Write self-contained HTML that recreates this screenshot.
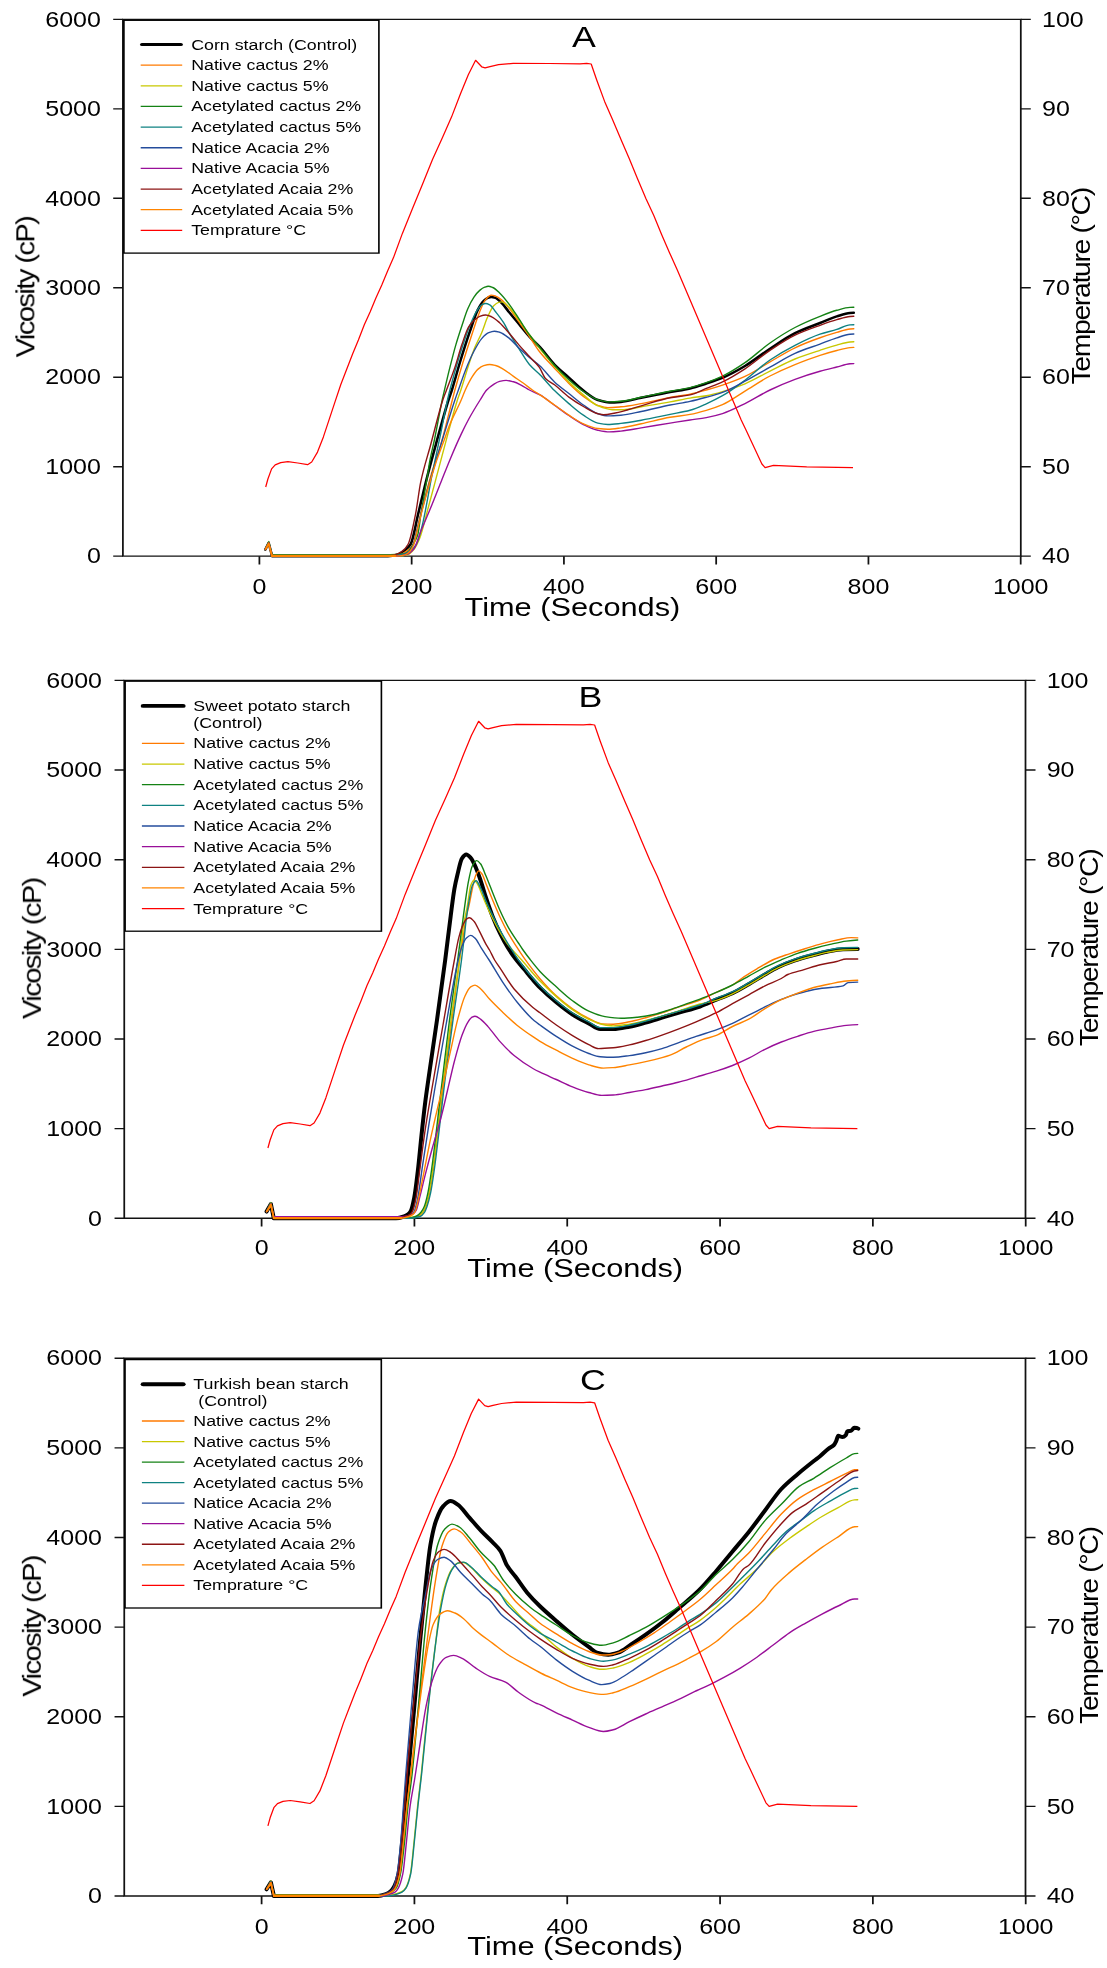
<!DOCTYPE html>
<html lang="en"><head><meta charset="utf-8"><title>Pasting profiles</title>
<style>
html,body{margin:0;padding:0;background:#fff}
body{width:1107px;height:1968px;overflow:hidden}
svg{display:block}
text{font-family:"Liberation Sans",Arial,Helvetica,sans-serif;fill:#000}
</style></head><body>
<svg width="1107" height="1968" viewBox="0 0 1107 1968">
<rect width="1107" height="1968" fill="#fff"/>
<g>
<g transform="scale(1.25 1)"><path d="M98.32 19.4H816.64V556.15H98.32Z" fill="none" stroke="#121212" stroke-width="1.4"/><path d="M90.56 556.15H98.32M816.64 556.15H824.64M90.56 466.69H98.32M816.64 466.69H824.64M90.56 377.23H98.32M816.64 377.23H824.64M90.56 287.77H98.32M816.64 287.77H824.64M90.56 198.32H98.32M816.64 198.32H824.64M90.56 108.86H98.32M816.64 108.86H824.64M90.56 19.4H98.32M816.64 19.4H824.64M207.52 556.15V564.45M329.33 556.15V564.45M451.14 556.15V564.45M572.94 556.15V564.45M694.75 556.15V564.45M816.56 556.15V564.45" fill="none" stroke="#121212" stroke-width="1.4"/></g><g><path d="M265.3 549.55L268.7 542.95L272.1 556.15L388 556.15C391.33 556.15 394.67 555.43 398 554.57C400.33 553.96 402.67 552.18 405 550.35C406.87 548.89 408.73 547.35 410.6 544.24C413.13 540.01 415.67 524.14 418.2 513.8C420.73 503.46 423.27 492.22 425.8 482.2C429.17 468.89 432.53 456.54 435.9 444.3C440.1 429.03 444.3 413.23 448.5 400C449.63 396.43 450.77 393.56 451.9 390C454.57 381.63 457.23 371.23 459.9 362.5C463.2 351.7 466.5 341.29 469.8 331.7C472.47 323.95 475.13 314.91 477.8 309.8C479.77 306.03 481.73 302.83 483.7 300.9C485.03 299.59 486.37 298.45 487.7 297.9C488.87 297.42 490.03 296.9 491.2 296.9C492.67 296.9 494.13 297.39 495.6 297.9C497.6 298.59 499.6 300.93 501.6 302.9C504.27 305.53 506.93 309.55 509.6 312.8C512.9 316.83 516.2 320.73 519.5 324.7C522.8 328.67 526.1 332.99 529.4 336.6C532.93 340.46 536.47 343.36 540 347.2C544.83 352.45 549.67 359.62 554.5 364.6C559.3 369.55 564.1 373.28 568.9 377.6C573.73 381.95 578.57 386.95 583.4 390.6C588.2 394.23 593 398.52 597.8 400C601.67 401.19 605.53 402.4 609.4 402.4C613.23 402.4 617.07 402.16 620.9 401.9C627.67 401.44 634.43 399.16 641.2 397.8C650.83 395.86 660.47 393.83 670.1 392C676.73 390.74 683.37 389.91 690 388.4C695.43 387.16 700.87 385.26 706.3 383.5C711.7 381.75 717.1 380.05 722.5 377.8C730 374.67 737.5 370.46 745 366C753.33 361.04 761.67 354.17 770 348.7C778.33 343.23 786.67 337.19 795 333.1C803.33 329.01 811.67 326.32 820 323C825.6 320.77 831.2 318.16 836.8 316.4C841.2 315.02 845.6 313.24 850 312.9C851.27 312.8 852.53 312.71 853.8 312.7" fill="none" stroke="#000000" stroke-width="2.55" stroke-linejoin="round" stroke-linecap="round"/><path d="M265.3 549.55L268.7 542.95L272.1 556.15L390 556.15C393.33 556.15 396.67 555.41 400 554.57C402.33 553.98 404.67 552.55 407 550.88C409.03 549.42 411.07 547.65 413.1 544.24C415.63 539.99 418.17 523.63 420.7 513.8C424.07 500.74 427.43 487.39 430.8 475.9C434.17 464.41 437.53 455.95 440.9 444.3C444.7 431.16 448.5 414.67 452.3 400C453.17 396.65 454.03 393.18 454.9 390C457.57 380.23 460.23 371.23 462.9 362.5C466.2 351.7 469.5 341.56 472.8 331.7C475.1 324.83 477.4 317.47 479.7 311.8C481.37 307.69 483.03 303.34 484.7 300.9C486.03 298.94 487.37 297.32 488.7 296.4C489.53 295.82 490.37 295.1 491.2 295.1C492.67 295.1 494.13 295.62 495.6 296.1C497.6 296.75 499.6 298.31 501.6 299.9C504.27 302.02 506.93 305.5 509.6 308.8C512.9 312.88 516.2 318.07 519.5 322.7C522.8 327.33 526.1 331.84 529.4 336.6C532.93 341.69 536.47 347.81 540 352.3C544.83 358.44 549.67 363 554.5 368.2C559.3 373.36 564.1 378.75 568.9 383.4C573.73 388.09 578.57 392.86 583.4 396.4C588.2 399.91 593 403.74 597.8 405.3C601.17 406.39 604.53 407.6 607.9 407.6C612.23 407.6 616.57 407.17 620.9 406.8C627.67 406.22 634.43 404.81 641.2 403.6C650.83 401.88 660.47 399.31 670.1 397.5C676.73 396.26 683.37 395.46 690 394.1C695.43 392.99 700.87 391.49 706.3 390C711.7 388.52 717.1 386.92 722.5 385.1C730 382.57 737.5 379.87 745 376.4C753.33 372.55 761.67 366.67 770 361.9C778.33 357.13 786.67 351.71 795 347.8C803.33 343.89 811.67 340.69 820 337.75C825.6 335.77 831.2 333.99 836.8 332.4C841.2 331.15 845.6 329.34 850 329C851.27 328.9 852.53 328.81 853.8 328.8" fill="none" stroke="#FF7A00" stroke-width="1.4" stroke-linejoin="round" stroke-linecap="round"/><path d="M265.3 549.55L268.7 541.45L272.1 556.15L398 556.15C401.33 556.15 404.67 555.52 408 554.57C410 554 412 551.71 414 549.3C415.8 547.13 417.6 543.43 419.4 539.1C422.37 531.96 425.33 518.32 428.3 507.5C431.67 495.22 435.03 482.25 438.4 469.6C441.77 456.95 445.13 443.89 448.5 431.6C451.47 420.77 454.43 409.25 457.4 400C458.57 396.36 459.73 393.51 460.9 390C463.53 382.08 466.17 372.4 468.8 364.5C470.8 358.5 472.8 352.5 474.8 347.6C477.1 341.96 479.4 338.19 481.7 332.7C483.7 327.93 485.7 321.13 487.7 316.8C489.7 312.47 491.7 307.78 493.7 305.8C495.33 304.18 496.97 302.82 498.6 302.4C499.6 302.14 500.6 301.9 501.6 301.9C502.93 301.9 504.27 302.94 505.6 303.8C506.93 304.66 508.27 306.32 509.6 307.8C512.9 311.47 516.2 316.22 519.5 320.7C522.8 325.18 526.1 330.19 529.4 334.7C532.93 339.53 536.47 344.26 540 348.7C544.83 354.78 549.67 360.46 554.5 366C559.3 371.5 564.1 377.15 568.9 381.9C573.73 386.68 578.57 390.93 583.4 394.9C588.2 398.84 593 403.89 597.8 405.8C602.63 407.72 607.47 409.7 612.3 409.7C616.13 409.7 619.97 409.7 623.8 409.7C629.6 409.7 635.4 407.77 641.2 406.8C650.83 405.18 660.47 403.64 670.1 401.9C676.73 400.7 683.37 399.2 690 398.1C695.43 397.2 700.87 396.71 706.3 395.7C711.7 394.69 717.1 393.17 722.5 391.6C730 389.42 737.5 386.88 745 383.8C753.33 380.38 761.67 375.23 770 371.1C778.33 366.97 786.67 362.37 795 359C803.33 355.63 811.67 353.02 820 350.3C825.6 348.47 831.2 346.59 836.8 345.1C841.2 343.93 845.6 342.34 850 342C851.27 341.9 852.53 341.82 853.8 341.8" fill="none" stroke="#C8C800" stroke-width="1.4" stroke-linejoin="round" stroke-linecap="round"/><path d="M265.3 549.55L268.7 542.15L272.1 554.75L386 554.75C389.33 554.75 392.67 554.61 396 554.47C398.77 554.35 401.53 554.19 404.3 553.72C405.73 553.48 407.17 552.4 408.6 551.19C410.03 549.97 411.47 547.19 412.9 544.72C414.5 541.96 416.1 540.12 417.7 535C418.73 531.69 419.77 521.42 420.8 515C421.63 509.83 422.47 504.88 423.3 500C424.47 493.16 425.63 486.97 426.8 480C427.87 473.63 428.93 465.66 430 460C431.47 452.22 432.93 447.03 434.4 440C437 427.54 439.6 412.06 442.2 400C442.97 396.45 443.73 393.28 444.5 390C446.3 382.3 448.1 374.58 449.9 367.4C451.9 359.43 453.9 351.49 455.9 344.6C457.9 337.71 459.9 331.7 461.9 325.7C463.87 319.8 465.83 313.3 467.8 308.8C469.8 304.23 471.8 300.32 473.8 297.4C475.77 294.53 477.73 292.02 479.7 290.4C481.37 289.03 483.03 287.8 484.7 287.2C485.87 286.78 487.03 286.3 488.2 286.3C489.7 286.3 491.2 286.92 492.7 287.5C495 288.38 497.3 290.76 499.6 292.9C502.93 296.01 506.27 300.37 509.6 304.8C512.9 309.19 516.2 314.72 519.5 319.7C522.8 324.68 526.1 330.18 529.4 334.7C532.93 339.54 536.47 343.55 540 347.9C544.83 353.85 549.67 360.24 554.5 365.5C559.3 370.72 564.1 375.42 568.9 379.7C573.73 384.01 578.57 388.26 583.4 391.5C588.2 394.72 593 398.36 597.8 399.7C601.67 400.78 605.53 401.9 609.4 401.9C613.23 401.9 617.07 401.6 620.9 401.3C627.67 400.77 634.43 398.67 641.2 397.3C650.83 395.36 660.47 393.18 670.1 391.3C676.73 390 683.37 389.14 690 387.6C695.43 386.34 700.87 384.57 706.3 382.7C711.7 380.84 717.1 378.77 722.5 376.2C730 372.63 737.5 367.8 745 362.7C753.33 357.04 761.67 348.78 770 343C778.33 337.22 786.67 331.82 795 327.5C803.33 323.18 811.67 319.65 820 316.35C825.6 314.13 831.2 311.81 836.8 310.3C841.2 309.11 845.6 307.58 850 307.4C851.27 307.35 852.53 307.3 853.8 307.3" fill="none" stroke="#148214" stroke-width="1.4" stroke-linejoin="round" stroke-linecap="round"/><path d="M265.3 549.55L268.7 541.95L272.1 555.35L394 555.35C397.33 555.35 400.67 554.65 404 553.87C406.33 553.32 408.67 552.04 411 550.41C412.83 549.13 414.67 547.26 416.5 544.19C418.33 541.12 420.17 533.6 422 526.5C425.33 513.59 428.67 491.51 432 475C435 460.14 438 446.56 441 432C443.17 421.48 445.33 409.66 447.5 400C448.3 396.43 449.1 393.12 449.9 390C453.23 377.01 456.57 365.16 459.9 354.5C463.2 343.95 466.5 333.74 469.8 325.7C472.13 320.01 474.47 314.37 476.8 310.8C478.43 308.3 480.07 305.62 481.7 304.8C483.03 304.13 484.37 303.5 485.7 303.5C487.03 303.5 488.37 304.14 489.7 304.8C491.67 305.77 493.63 309.31 495.6 311.8C498.27 315.17 500.93 318.5 503.6 322.7C505.6 325.85 507.6 330.26 509.6 333.7C512.9 339.38 516.2 344.47 519.5 349.6C522.8 354.73 526.1 360.62 529.4 364.5C532.93 368.66 536.47 371.09 540 374.7C544.83 379.64 549.67 385.81 554.5 390.6C559.3 395.35 564.1 399.53 568.9 403.6C573.73 407.7 578.57 412.05 583.4 415.2C588.2 418.32 593 422.07 597.8 423.1C601.17 423.82 604.53 424.5 607.9 424.5C612.23 424.5 616.57 423.87 620.9 423.4C627.67 422.67 634.43 421.39 641.2 420.2C650.83 418.51 660.47 416.36 670.1 414.4C676.73 413.05 683.37 412.12 690 410.3C695.43 408.81 700.87 406.21 706.3 403.8C711.7 401.4 717.1 398.8 722.5 395.7C730 391.39 737.5 385.77 745 380.2C753.33 374.01 761.67 365.67 770 360C778.33 354.33 786.67 349.53 795 345.3C803.33 341.07 811.67 336.99 820 334.15C825.6 332.24 831.2 331.14 836.8 329.4C841.2 328.03 845.6 325.25 850 324.9C851.27 324.8 852.53 324.7 853.8 324.7" fill="none" stroke="#0F8282" stroke-width="1.4" stroke-linejoin="round" stroke-linecap="round"/><path d="M265.3 549.55L268.7 542.95L272.1 556.15L394 556.15C397.33 556.15 400.67 555.75 404 555.1C405.83 554.73 407.67 553.08 409.5 551.2C410.83 549.82 412.17 547.59 413.5 544.24C414.27 542.31 415.03 538.1 415.8 535C417.53 527.99 419.27 520.64 421 513.8C422.2 509.07 423.4 504.45 424.6 500C426.47 493.08 428.33 486.44 430.2 480C432.2 473.1 434.2 466.61 436.2 460C438.23 453.28 440.27 446.57 442.3 440C446.5 426.43 450.7 412.51 454.9 400C456.07 396.53 457.23 393.3 458.4 390C460.87 383.03 463.33 375.53 465.8 369.4C468.47 362.77 471.13 356.53 473.8 351.5C476.43 346.53 479.07 341.51 481.7 338.6C484.03 336.02 486.37 333.64 488.7 332.7C490.53 331.96 492.37 331.2 494.2 331.2C496 331.2 497.8 331.71 499.6 332.2C502.93 333.11 506.27 335.99 509.6 338.6C512.9 341.19 516.2 345.46 519.5 348.6C522.8 351.74 526.1 354.7 529.4 357.5C532.93 360.5 536.47 362.75 540 366C544.83 370.44 549.67 377.41 554.5 381.9C559.3 386.36 564.1 389.66 568.9 393.5C573.73 397.36 578.57 401.69 583.4 405C588.2 408.29 593 412.2 597.8 413.7C601.17 414.75 604.53 415.9 607.9 415.9C612.23 415.9 616.57 415.55 620.9 415.2C627.67 414.66 634.43 412.85 641.2 411.5C650.83 409.57 660.47 406.92 670.1 405C676.73 403.68 683.37 402.8 690 401.4C695.43 400.25 700.87 398.79 706.3 397.3C711.7 395.82 717.1 394.41 722.5 392.4C730 389.61 737.5 385.15 745 381.2C753.33 376.81 761.67 371.83 770 367.2C778.33 362.57 786.67 357.12 795 353.4C803.33 349.68 811.67 347.16 820 344.05C825.6 341.96 831.2 339.55 836.8 337.8C841.2 336.42 845.6 334.55 850 334.2C851.27 334.1 852.53 334 853.8 334" fill="none" stroke="#244C9C" stroke-width="1.4" stroke-linejoin="round" stroke-linecap="round"/><path d="M265.3 549.55L268.7 542.95L272.1 556.15L397 556.15C400.33 556.15 403.67 555.37 407 554.36C409.33 553.65 411.67 551.63 414 548.77C416.23 546.04 418.47 537.04 420.7 531.5C424.07 523.15 427.43 515.71 430.8 507.5C434.17 499.29 437.53 490.59 440.9 482.2C444.3 473.73 447.7 464.94 451.1 456.9C454.47 448.94 457.83 441.19 461.2 434.1C463.73 428.76 466.27 423.64 468.8 419C472.57 412.1 476.33 405.98 480.1 400C482.3 396.51 484.5 392.34 486.7 390C489.03 387.52 491.37 385.72 493.7 384.3C495.67 383.1 497.63 381.86 499.6 381.4C501.77 380.89 503.93 380.4 506.1 380.4C508.57 380.4 511.03 381.15 513.5 381.8C516.17 382.5 518.83 383.95 521.5 385.3C524.13 386.63 526.77 388.62 529.4 390C532.93 391.85 536.47 392.94 540 394.9C544.83 397.58 549.67 401.75 554.5 405.2C559.3 408.62 564.1 412.31 568.9 415.5C573.73 418.71 578.57 422.14 583.4 424.5C588.2 426.84 593 429.33 597.8 430.3C601.67 431.08 605.53 431.9 609.4 431.9C613.23 431.9 617.07 431.46 620.9 431.1C627.67 430.47 634.43 428.99 641.2 427.9C650.83 426.34 660.47 424.65 670.1 423.1C676.73 422.04 683.37 421 690 420C695.43 419.18 700.87 418.6 706.3 417.6C711.7 416.6 717.1 415.29 722.5 413.6C730 411.26 737.5 407.26 745 403.6C753.33 399.53 761.67 393.99 770 390C778.33 386.01 786.67 382.36 795 379.3C803.33 376.24 811.67 373.59 820 371.25C825.6 369.68 831.2 368.39 836.8 367C841.2 365.91 845.6 364.14 850 363.8C851.27 363.7 852.53 363.61 853.8 363.6" fill="none" stroke="#990F99" stroke-width="1.4" stroke-linejoin="round" stroke-linecap="round"/><path d="M265.3 549.55L268.7 542.95L272.1 556.15L385 556.15C388.33 556.15 391.67 555.58 395 554.88C397.33 554.4 399.67 553.05 402 551.41C404.03 549.97 406.07 547.87 408.1 544.24C410.6 539.77 413.1 526.23 415.6 513.8C417.3 505.35 419 490.37 420.7 482.2C424.07 466.03 427.43 456.95 430.8 444.3C434.17 431.65 437.53 418 440.9 406.3C441.53 404.1 442.17 401.91 442.8 400C444.03 396.29 445.27 393.33 446.5 390C449.3 382.45 452.1 375.67 454.9 367.4C457.23 360.5 459.57 351.34 461.9 344.6C464.2 337.96 466.5 330.37 468.8 326.7C470.8 323.51 472.8 321.43 474.8 319.7C476.43 318.29 478.07 316.85 479.7 316.3C481.7 315.63 483.7 315 485.7 315C487.7 315 489.7 315.96 491.7 316.8C494.33 317.91 496.97 320.37 499.6 322.7C502.93 325.64 506.27 329.87 509.6 333.7C512.9 337.49 516.2 341.81 519.5 345.6C522.8 349.39 526.1 352.88 529.4 356.5C532.73 360.15 536.07 362.74 539.4 367.4C541.43 370.24 543.47 376.5 545.5 378.6C548.5 381.7 551.5 382.53 554.5 384.8C559.3 388.43 564.1 393.56 568.9 397.1C573.73 400.66 578.57 403.77 583.4 406.5C588.2 409.21 593 412.55 597.8 413.7C599.73 414.16 601.67 414.7 603.6 414.7C607.47 414.7 611.33 413.71 615.2 413C623.87 411.4 632.53 408.2 641.2 405.8C650.83 403.13 660.47 399.6 670.1 397.8C676.73 396.56 683.37 396.34 690 394.9C695.43 393.72 700.87 390.57 706.3 388.4C711.7 386.24 717.1 384.44 722.5 381.9C730 378.37 737.5 373.68 745 368.8C753.33 363.38 761.67 355.86 770 350.3C778.33 344.74 786.67 339.07 795 335.1C803.33 331.13 811.67 328.29 820 325.3C825.6 323.29 831.2 321.26 836.8 319.7C841.2 318.47 845.6 316.84 850 316.5C851.27 316.4 852.53 316.31 853.8 316.3" fill="none" stroke="#8C1414" stroke-width="1.4" stroke-linejoin="round" stroke-linecap="round"/><path d="M265.3 549.55L268.7 542.95L272.1 556.15L395 556.15C398.33 556.15 401.67 555.67 405 554.88C406.67 554.49 408.33 552.97 410 551.2C411.3 549.81 412.6 547.56 413.9 544.24C414.67 542.28 415.43 538.13 416.2 535C417.9 528.07 419.6 520.56 421.3 513.8C422.5 509.02 423.7 504.41 424.9 500C426.8 493.02 428.7 486.39 430.6 480C432.67 473.05 434.73 466.09 436.8 460C439.27 452.73 441.73 446.76 444.2 440C445.97 435.16 447.73 429.66 449.5 425.3C453.4 415.67 457.3 409.03 461.2 400C462.57 396.84 463.93 392.98 465.3 390C467.47 385.28 469.63 380.81 471.8 377.4C473.8 374.25 475.8 371.1 477.8 369.4C479.77 367.72 481.73 366.3 483.7 365.7C485.7 365.09 487.7 364.5 489.7 364.5C491.67 364.5 493.63 365.02 495.6 365.5C498.27 366.15 500.93 367.87 503.6 369.4C506.9 371.29 510.2 374.1 513.5 376.4C516.83 378.73 520.17 380.9 523.5 383.3C526.47 385.44 529.43 387.94 532.4 390C534.93 391.76 537.47 393.21 540 394.9C544.83 398.12 549.67 401.61 554.5 405C559.3 408.37 564.1 412.1 568.9 415.2C573.73 418.32 578.57 421.77 583.4 423.8C588.2 425.82 593 427.91 597.8 428.5C601.17 428.91 604.53 429.3 607.9 429.3C612.23 429.3 616.57 428.5 620.9 427.9C627.67 426.97 634.43 425.24 641.2 423.8C650.83 421.76 660.47 418.98 670.1 417.3C676.73 416.14 683.37 415.64 690 414.4C695.43 413.39 700.87 411.89 706.3 410.3C711.7 408.72 717.1 406.96 722.5 404.6C730 401.32 737.5 395.61 745 391.1C753.33 386.08 761.67 380.33 770 376C778.33 371.67 786.67 368 795 364.6C803.33 361.2 811.67 358.03 820 355.35C825.6 353.55 831.2 351.89 836.8 350.5C841.2 349.41 845.6 347.94 850 347.6C851.27 347.5 852.53 347.42 853.8 347.4" fill="none" stroke="#FF8400" stroke-width="1.4" stroke-linejoin="round" stroke-linecap="round"/><path d="M265.8 549.15L268.7 544.15L272.1 555.9" fill="none" stroke="#FF8400" stroke-width="1.7" stroke-linejoin="round"/><path d="M272.1 555.9L395 555.9" fill="none" stroke="#FF8400" stroke-width="2.3" stroke-linejoin="round" stroke-linecap="round"/><path d="M265.7 487L267.9 479L271.6 468.9L275.2 464.8L280.7 462.6L287.9 461.7L297.8 463L307.6 464.7L311.7 462L317.5 452.1L323.4 436.9L329.2 419.4L335 401.9L340.9 384.3L346.7 369.2L352.6 354L358.4 340L364.3 324.8L370.1 311.9L375.9 297.9L381.8 285L387.6 271L393.5 257.6L402.4 233.4L412.4 208.8L422.5 184.2L432.5 159.6L442.6 137.3L451.5 117.1L460.5 93.7L468.3 74.7L475.6 60.3L481.7 66.8L485.1 67.9L490 66.6L498.5 64.7L513.2 63.3L549.4 63.5L580 63.8L586.7 63.4L591.2 64L596.8 80.2L604.6 101.4L612.4 119.3L621.4 140.6L629.2 158.4L637 177.4L646 198.7L653.8 215.5L661.6 234.5L669.4 252.4L677.3 270L690 299.8L741.2 420L746 430L761.9 464L765.1 467.6L773.5 465.4L806.7 466.9L853 467.6" fill="none" stroke="#FF0000" stroke-width="1.25" stroke-linejoin="round"/></g><g transform="scale(1.25 1)"><rect x="99.12" y="20.3" width="204" height="232.8" fill="#fff" stroke="#000" stroke-width="1.3"/><path d="M113.52 44.5H144.8" stroke="#000" stroke-width="3" stroke-linecap="round" fill="none"/><path d="M112.56 65.15H145.76" stroke="#FF7A00" stroke-width="1.3" fill="none"/><path d="M112.56 85.8H145.76" stroke="#C8C800" stroke-width="1.3" fill="none"/><path d="M112.56 106.45H145.76" stroke="#148214" stroke-width="1.3" fill="none"/><path d="M112.56 127.1H145.76" stroke="#0F8282" stroke-width="1.3" fill="none"/><path d="M112.56 147.75H145.76" stroke="#244C9C" stroke-width="1.3" fill="none"/><path d="M112.56 168.4H145.76" stroke="#990F99" stroke-width="1.3" fill="none"/><path d="M112.56 189.05H145.76" stroke="#8C1414" stroke-width="1.3" fill="none"/><path d="M112.56 209.7H145.76" stroke="#FF8400" stroke-width="1.3" fill="none"/><path d="M112.56 230.35H145.76" stroke="#FF0000" stroke-width="1.3" fill="none"/></g>
<g transform="scale(1.25 1)"><path d="M99.4 680.4H820.4V1218.3H99.4Z" fill="none" stroke="#121212" stroke-width="1.4"/><path d="M91.64 1218.3H99.4M820.4 1218.3H828.4M91.64 1128.65H99.4M820.4 1128.65H828.4M91.64 1039H99.4M820.4 1039H828.4M91.64 949.35H99.4M820.4 949.35H828.4M91.64 859.7H99.4M820.4 859.7H828.4M91.64 770.05H99.4M820.4 770.05H828.4M91.64 680.4H99.4M820.4 680.4H828.4M209.28 1218.3V1226.6M331.54 1218.3V1226.6M453.79 1218.3V1226.6M576.05 1218.3V1226.6M698.3 1218.3V1226.6M820.56 1218.3V1226.6" fill="none" stroke="#121212" stroke-width="1.4"/></g><g><path d="M266.6 1211.6L270.9 1204.1L273.8 1218.3L396 1218.3C398.67 1218.24 401.33 1217.39 404 1216.51C405.33 1216.08 406.67 1215.4 408 1214.41C408.9 1213.75 409.8 1212.84 410.7 1211.26C411.9 1209.17 413.1 1203.51 414.3 1197.4C415.5 1191.29 416.7 1180.49 417.9 1170.3C419.13 1159.82 420.37 1145.59 421.6 1134.2C422.8 1123.11 424 1112.14 425.2 1102.6C426.23 1094.39 427.27 1087.36 428.3 1080C431.2 1059.35 434.1 1040.6 437 1020C439.73 1000.59 442.47 980.98 445.2 960C447.03 945.93 448.87 929.89 450.7 915.9C451.93 906.49 453.17 895.74 454.4 888.8C455.33 883.55 456.27 879.64 457.2 875.8C458.8 869.21 460.4 860.69 462 858.4C463.4 856.4 464.8 854.6 466.2 854.6C467.7 854.6 469.2 856.33 470.7 857.9C472.5 859.78 474.3 864.15 476.1 868.2C477.57 871.5 479.03 875.8 480.5 880.1C482.3 885.38 484.1 892.06 485.9 897.5C488.07 904.04 490.23 910.42 492.4 915.9C494.93 922.31 497.47 928.02 500 933.2C502.53 938.38 505.07 943.18 507.6 947.3C510.3 951.69 513 955.45 515.7 959C518.47 962.64 521.23 965.65 524 969C526.97 972.59 529.93 976.39 532.9 979.8C535.27 982.52 537.63 985.23 540 987.6C545.43 993.05 550.87 997.84 556.3 1002.3C561.7 1006.73 567.1 1011.08 572.5 1014.5C577.93 1017.94 583.37 1020.57 588.8 1023.4C592.6 1025.38 596.4 1029.1 600.2 1029.1C604.53 1029.1 608.87 1029.1 613.2 1029.1C618.6 1029.1 624 1027.71 629.4 1026.7C634.83 1025.69 640.27 1024.09 645.7 1022.6C651.13 1021.11 656.57 1019.34 662 1017.7C667.4 1016.07 672.8 1014.4 678.2 1012.8C685.47 1010.65 692.73 1009 700 1006.5C705.43 1004.63 710.87 1001.92 716.3 999.7C721.7 997.49 727.1 995.71 732.5 993.2C737.93 990.68 743.37 987.32 748.8 984.2C754.2 981.1 759.6 977.63 765 974.5C769.33 971.99 773.67 969.23 778 967.2C783.43 964.65 788.87 962.56 794.3 960.7C799.73 958.84 805.17 957.29 810.6 955.8C816 954.32 821.4 952.71 826.8 951.7C832.23 950.69 837.67 949.55 843.1 949.3C847.97 949.08 852.83 948.9 857.7 948.9" fill="none" stroke="#000000" stroke-width="4" stroke-linejoin="round" stroke-linecap="round"/><path d="M266.6 1211.6L270.9 1204.1L273.8 1218.3L409 1218.3C412 1218.3 415 1217.54 418 1216.51C419.67 1215.95 421.33 1214.33 423 1212.32C424 1211.11 425 1209.07 426 1206.54C427.2 1203.51 428.4 1198.57 429.6 1192.9C430.8 1187.23 432 1178.71 433.2 1170.3C434.7 1159.78 436.2 1146.8 437.7 1134.2C438.9 1124.12 440.1 1112.87 441.3 1102.6C442.2 1094.9 443.1 1087.19 444 1080C446.67 1058.71 449.33 1040.36 452 1020C455 997.1 458 969.58 461 950C461.7 945.43 462.4 942 463.1 937.6C464.07 931.53 465.03 923.02 466 918C467.03 912.64 468.07 909.71 469.1 905C470.23 899.84 471.37 893.03 472.5 888C473.5 883.57 474.5 878.25 475.5 876C476.6 873.53 477.7 870.9 478.8 870.9C479.87 870.9 480.93 872.55 482 874C483.3 875.77 484.6 880.22 485.9 883.4C488.07 888.7 490.23 894.42 492.4 899.6C494.93 905.65 497.47 911.61 500 917C502.53 922.39 505.07 927.54 507.6 932.1C510.47 937.26 513.33 941.72 516.2 946.2C519.1 950.73 522 955.16 524.9 959.2C529.93 966.22 534.97 972.87 540 978.7C545.43 985 550.87 990.86 556.3 995.8C561.7 1000.71 567.1 1005.11 572.5 1008.8C577.93 1012.51 583.37 1015.86 588.8 1018.5C593.13 1020.61 597.47 1023.69 601.8 1023.9C605.6 1024.08 609.4 1024.2 613.2 1024.2C618.6 1024.2 624 1022.81 629.4 1021.8C634.83 1020.79 640.27 1019.19 645.7 1017.7C651.13 1016.21 656.57 1014.55 662 1012.8C667.4 1011.06 672.8 1009.03 678.2 1007.2C685.47 1004.74 692.73 1002.83 700 1000C705.43 997.88 710.87 994.91 716.3 992.4C721.7 989.91 727.1 988.04 732.5 985C736.3 982.86 740.1 979.43 743.9 976.9C748.23 974.02 752.57 971.33 756.9 968.8C762.87 965.31 768.83 961.56 774.8 959C779.67 956.91 784.53 955.46 789.4 953.8C794.83 951.95 800.27 950.2 805.7 948.5C811.13 946.8 816.57 945.03 822 943.6C827.4 942.18 832.8 940.86 838.2 939.8C842.53 938.95 846.87 937.6 851.2 937.6C853.37 937.6 855.53 937.64 857.7 937.9" fill="none" stroke="#FF7A00" stroke-width="1.4" stroke-linejoin="round" stroke-linecap="round"/><path d="M266.6 1211.6L270.9 1202.6L273.8 1217.5L409 1217.5C411.67 1217.5 414.33 1216.69 417 1215.83C418.83 1215.24 420.67 1214.22 422.5 1212.39C423.5 1211.39 424.5 1209.08 425.5 1206.49C426.67 1203.47 427.83 1198.43 429 1192.9C430.23 1187.06 431.47 1178.82 432.7 1170.3C434.2 1159.94 435.7 1146.8 437.2 1134.2C438.4 1124.12 439.6 1112.87 440.8 1102.6C441.7 1094.9 442.6 1087.39 443.5 1080C446 1059.47 448.5 1038.77 451 1020C453.83 998.72 456.67 982.46 459.5 960C460.77 949.96 462.03 934.97 463.3 926.7C464.7 917.56 466.1 912.86 467.5 905C468.57 899.01 469.63 888.26 470.7 885.5C471.8 882.65 472.9 880.1 474 880.1C475.17 880.1 476.33 882.23 477.5 884C478.5 885.51 479.5 888.54 480.5 890.9C482.3 895.14 484.1 899.89 485.9 904C488.07 908.95 490.23 913.67 492.4 918C494.93 923.06 497.47 927.78 500 932.1C502.53 936.42 505.07 940.71 507.6 944.1C512.3 950.39 517 954.64 521.7 960C527.8 966.95 533.9 974.75 540 981.1C545.43 986.75 550.87 991.87 556.3 996.6C561.7 1001.3 567.1 1005.91 572.5 1009.6C577.93 1013.31 583.37 1016.81 588.8 1019.3C593.13 1021.28 597.47 1023.28 601.8 1024.2C605.6 1025 609.4 1025.9 613.2 1025.9C618.6 1025.9 624 1024.97 629.4 1024.2C634.83 1023.42 640.27 1021.84 645.7 1020.5C651.13 1019.16 656.57 1017.65 662 1016.1C667.4 1014.56 672.8 1012.9 678.2 1011.2C685.47 1008.91 692.73 1005.91 700 1004C705.43 1002.58 710.87 1001.95 716.3 1000.4C721.7 998.86 727.1 996.41 732.5 993.9C737.93 991.38 743.37 988.02 748.8 984.9C754.2 981.8 759.6 978.33 765 975.2C769.33 972.69 773.67 969.93 778 967.9C783.43 965.35 788.87 963.26 794.3 961.4C799.73 959.54 805.17 957.99 810.6 956.5C816 955.02 821.4 953.41 826.8 952.4C832.23 951.39 837.67 950.25 843.1 950C847.97 949.78 852.83 949.6 857.7 949.6" fill="none" stroke="#C8C800" stroke-width="1.4" stroke-linejoin="round" stroke-linecap="round"/><path d="M266.6 1211.6L270.9 1203.3L273.8 1218.3L408 1218.3C410.67 1218.3 413.33 1217.5 416 1216.51C417.67 1215.9 419.33 1214.25 421 1212.32C422.1 1211.04 423.2 1209.16 424.3 1206.54C425.5 1203.68 426.7 1198.57 427.9 1192.9C429.1 1187.23 430.3 1178.71 431.5 1170.3C433 1159.78 434.5 1146.8 436 1134.2C437.2 1124.12 438.4 1112.87 439.6 1102.6C440.5 1094.9 441.4 1087.52 442.3 1080C444.7 1059.95 447.1 1038.73 449.5 1020C452.23 998.67 454.97 980.63 457.7 960C459.13 949.18 460.57 937.65 462 926.7C463.1 918.3 464.2 909.44 465.3 901.8C466.37 894.39 467.43 886.5 468.5 881.2C469.77 874.91 471.03 868.41 472.3 866C473.77 863.21 475.23 860.6 476.7 860.6C477.97 860.6 479.23 862.29 480.5 863.8C482.3 865.94 484.1 871.58 485.9 875.8C488.07 880.88 490.23 886.66 492.4 892C494.93 898.24 497.47 904.91 500 910.5C502.87 916.83 505.73 922.76 508.6 927.8C511.87 933.54 515.13 938.01 518.4 943C519.83 945.19 521.27 947.45 522.7 949.5C525.13 952.98 527.57 956.19 530 959.3C533.33 963.55 536.67 967.83 540 971.4C545.43 977.22 550.87 981.91 556.3 986.8C561.7 991.66 567.1 996.73 572.5 1000.7C577.93 1004.7 583.37 1008.81 588.8 1011.2C594.2 1013.57 599.6 1015.78 605 1016.6C610.43 1017.42 615.87 1018.2 621.3 1018.2C626.73 1018.2 632.17 1017.69 637.6 1017.2C643 1016.72 648.4 1015.66 653.8 1014.5C659.23 1013.34 664.67 1011.36 670.1 1009.6C675.5 1007.85 680.9 1005.78 686.3 1003.9C690.87 1002.31 695.43 1000.91 700 999.2C705.43 997.16 710.87 994.77 716.3 992.4C721.7 990.05 727.1 987.69 732.5 985C737.93 982.3 743.37 979.08 748.8 976.1C754.2 973.14 759.6 969.88 765 967.2C770.43 964.5 775.87 962.11 781.3 959.8C786.73 957.49 792.17 955.15 797.6 953.3C803 951.46 808.4 949.97 813.8 948.5C819.23 947.02 824.67 945.62 830.1 944.4C835.5 943.18 840.9 941.79 846.3 941.1C850.1 940.61 853.9 940.2 857.7 940" fill="none" stroke="#148214" stroke-width="1.4" stroke-linejoin="round" stroke-linecap="round"/><path d="M266.6 1211.6L270.9 1203.1L273.8 1218.3L411 1218.3C414 1218.3 417 1217.57 420 1216.51C421.5 1215.99 423 1214.39 424.5 1212.32C425.33 1211.16 426.17 1208.9 427 1206.54C428.2 1203.15 429.4 1198.57 430.6 1192.9C431.8 1187.23 433 1178.71 434.2 1170.3C435.7 1159.78 437.2 1146.8 438.7 1134.2C439.9 1124.12 441.1 1112.87 442.3 1102.6C443.2 1094.9 444.1 1087.19 445 1080C447.67 1058.71 450.33 1039.4 453 1020C455.83 999.39 458.67 981.92 461.5 960C462.4 953.04 463.3 945.34 464.2 937.6C464.93 931.29 465.67 923.5 466.4 918C467.3 911.25 468.2 905.63 469.1 900.7C470.17 894.86 471.23 887.66 472.3 885.5C473.57 882.93 474.83 880.7 476.1 880.7C477.57 880.7 479.03 884.91 480.5 887.7C482.3 891.12 484.1 896.59 485.9 900.7C488.07 905.65 490.23 910.29 492.4 914.8C494.93 920.08 497.47 925.33 500 930C502.53 934.67 505.07 938.84 507.6 943C511.2 948.92 514.8 955.02 518.4 960C525.6 969.97 532.8 978.6 540 986C545.43 991.59 550.87 996.33 556.3 1000.8C561.7 1005.25 567.1 1009.56 572.5 1013C577.93 1016.46 583.37 1019.18 588.8 1022C592.6 1023.97 596.4 1027.6 600.2 1027.6C604.53 1027.6 608.87 1027.6 613.2 1027.6C618.6 1027.6 624 1026.21 629.4 1025.2C634.83 1024.19 640.27 1022.59 645.7 1021.1C651.13 1019.61 656.57 1017.84 662 1016.2C667.4 1014.57 672.8 1012.9 678.2 1011.3C685.47 1009.15 692.73 1007.5 700 1005C705.43 1003.13 710.87 1000.42 716.3 998.2C721.7 995.99 727.1 994.21 732.5 991.7C737.93 989.18 743.37 985.82 748.8 982.7C754.2 979.6 759.6 976.13 765 973C769.33 970.49 773.67 967.73 778 965.7C783.43 963.15 788.87 961.06 794.3 959.2C799.73 957.34 805.17 955.79 810.6 954.3C816 952.82 821.4 951.21 826.8 950.2C832.23 949.19 837.67 948.05 843.1 947.8C847.97 947.58 852.83 947.4 857.7 947.4" fill="none" stroke="#0F8282" stroke-width="1.4" stroke-linejoin="round" stroke-linecap="round"/><path d="M266.6 1211.6L270.9 1204.1L273.8 1218.3L400 1218.3C402.67 1218.24 405.33 1217.39 408 1216.51C409.33 1216.08 410.67 1215.47 412 1214.41C412.77 1213.81 413.53 1212.76 414.3 1211.26C415.5 1208.92 416.7 1203.26 417.9 1197.4C419.43 1189.92 420.97 1176.01 422.5 1165.8C424.6 1151.81 426.7 1138.32 428.8 1125.2C430.73 1113.12 432.67 1101.41 434.6 1090C438.4 1067.58 442.2 1045.94 446 1025C450.07 1002.59 454.13 977 458.2 960C459.47 954.7 460.73 949.32 462 946.2C463.47 942.59 464.93 939.47 466.4 938.1C467.83 936.76 469.27 935.4 470.7 935.4C472.13 935.4 473.57 936.85 475 938.1C477.17 939.99 479.33 945.03 481.5 948.4C484.03 952.34 486.57 956.02 489.1 960C493.57 967.01 498.03 975.09 502.5 981.8C507.33 989.06 512.17 996.08 517 1002C522.77 1009.07 528.53 1015.89 534.3 1020.8C536.2 1022.42 538.1 1023.63 540 1025C545.43 1028.92 550.87 1032.88 556.3 1036.4C561.7 1039.9 567.1 1043.42 572.5 1046.2C577.93 1049 583.37 1051.65 588.8 1053.5C592.6 1054.79 596.4 1056.44 600.2 1056.7C604.53 1057 608.87 1057.2 613.2 1057.2C618.6 1057.2 624 1056.29 629.4 1055.6C634.83 1054.91 640.27 1053.83 645.7 1052.7C651.13 1051.57 656.57 1050.19 662 1048.6C667.4 1047.02 672.8 1044.83 678.2 1042.9C684.17 1040.77 690.13 1038.45 696.1 1036.4C702.83 1034.08 709.57 1032.23 716.3 1029.8C721.7 1027.85 727.1 1025.73 732.5 1023.3C735.77 1021.83 739.03 1020.03 742.3 1018.4C747.17 1015.97 752.03 1013.54 756.9 1011.1C762.33 1008.38 767.77 1005.33 773.2 1002.9C778.6 1000.49 784 998.26 789.4 996.4C794.83 994.53 800.27 992.79 805.7 991.5C811.13 990.21 816.57 989.09 822 988.3C829.03 987.28 836.07 987.51 843.1 985.9C844.73 985.53 846.37 982.77 848 982.6C851.23 982.26 854.47 982.1 857.7 982.1" fill="none" stroke="#244C9C" stroke-width="1.4" stroke-linejoin="round" stroke-linecap="round"/><path d="M266.6 1211.6L270.9 1204.1L273.8 1216.6L402 1216.6C404.67 1216.55 407.33 1215.81 410 1215.06C411.33 1214.68 412.67 1214.18 414 1213.24C414.7 1212.74 415.4 1211.8 416.1 1210.51C417.3 1208.31 418.5 1202.01 419.7 1197.4C421.53 1190.36 423.37 1182.1 425.2 1174.9C427.6 1165.47 430 1156.54 432.4 1147.8C435.4 1136.87 438.4 1127.67 441.4 1116.1C443.47 1108.13 445.53 1098.68 447.6 1090C450 1079.91 452.4 1068.82 454.8 1059.8C457.2 1050.78 459.6 1041.74 462 1035.3C463.93 1030.11 465.87 1025.25 467.8 1022.3C469.23 1020.11 470.67 1017.94 472.1 1017.2C473.07 1016.7 474.03 1016.2 475 1016.2C476.93 1016.2 478.87 1018.04 480.8 1019.4C483.2 1021.09 485.6 1023.96 488 1026.6C491.87 1030.86 495.73 1036.8 499.6 1041.1C504.43 1046.47 509.27 1051.53 514.1 1055.5C520.37 1060.65 526.63 1064.85 532.9 1068.5C535.27 1069.88 537.63 1071.05 540 1072.2C545.43 1074.84 550.87 1077.06 556.3 1079.5C561.7 1081.93 567.1 1084.67 572.5 1086.8C577.93 1088.94 583.37 1091.03 588.8 1092.5C593.13 1093.67 597.47 1095.4 601.8 1095.4C605.6 1095.4 609.4 1095.21 613.2 1095C618.6 1094.7 624 1093.39 629.4 1092.5C634.83 1091.6 640.27 1090.67 645.7 1089.6C651.13 1088.53 656.57 1087.22 662 1086C667.4 1084.79 672.8 1083.68 678.2 1082.3C684.17 1080.78 690.13 1078.84 696.1 1077.1C702.83 1075.14 709.57 1073.36 716.3 1071.2C721.7 1069.47 727.1 1067.63 732.5 1065.5C737.93 1063.36 743.37 1060.88 748.8 1058.2C754.2 1055.54 759.6 1051.96 765 1049.3C770.43 1046.62 775.87 1044.13 781.3 1042C786.73 1039.87 792.17 1038.06 797.6 1036.3C803 1034.55 808.4 1032.71 813.8 1031.4C819.23 1030.08 824.67 1029.09 830.1 1028.1C835.5 1027.11 840.9 1025.92 846.3 1025.4C850.1 1025.03 853.9 1024.72 857.7 1024.6" fill="none" stroke="#990F99" stroke-width="1.4" stroke-linejoin="round" stroke-linecap="round"/><path d="M266.6 1211.6L270.9 1204.1L273.8 1218.3L398 1218.3C400.67 1218.24 403.33 1217.39 406 1216.51C407.33 1216.08 408.67 1215.44 410 1214.41C410.83 1213.78 411.67 1212.8 412.5 1211.26C413.7 1209.05 414.9 1203.51 416.1 1197.4C417.3 1191.29 418.5 1179.25 419.7 1170.3C421.53 1156.62 423.37 1141.99 425.2 1129.7C427.37 1115.18 429.53 1102.87 431.7 1090C435.47 1067.62 439.23 1046.57 443 1025C446.8 1003.24 450.6 980.27 454.4 960C455.87 952.18 457.33 943.16 458.8 937.6C460.23 932.17 461.67 927.64 463.1 924.6C464.2 922.27 465.3 919.82 466.4 919.1C467.47 918.41 468.53 917.8 469.6 917.8C471.07 917.8 472.53 919.7 474 921.3C475.8 923.26 477.6 927.68 479.4 931.1C481.57 935.22 483.73 940.23 485.9 944.1C487.1 946.24 488.3 947.87 489.5 950C491.2 953.02 492.9 957.16 494.6 960C496.27 962.79 497.93 964.84 499.6 967.3C504.43 974.43 509.27 983.21 514.1 989C520.37 996.51 526.63 1002.29 532.9 1007.5C535.27 1009.47 537.63 1011.03 540 1012.8C545.43 1016.86 550.87 1021.21 556.3 1025C561.7 1028.77 567.1 1032.37 572.5 1035.6C577.93 1038.85 583.37 1042.07 588.8 1044.6C592.03 1046.11 595.27 1048.6 598.5 1048.6C603.4 1048.6 608.3 1048.21 613.2 1047.8C618.6 1047.35 624 1046.06 629.4 1044.9C634.83 1043.73 640.27 1042.12 645.7 1040.5C651.13 1038.88 656.57 1037 662 1035.1C667.4 1033.21 672.8 1031.19 678.2 1029.1C684.17 1026.79 690.13 1024.33 696.1 1021.8C700.43 1019.97 704.77 1018.08 709.1 1016.1C711.5 1015 713.9 1013.91 716.3 1012.7C721.7 1009.97 727.1 1006.67 732.5 1003.7C737.93 1000.71 743.37 997.78 748.8 994.8C754.2 991.84 759.6 988.58 765 985.9C770.43 983.2 775.87 981.4 781.3 978.5C783.47 977.34 785.63 975.42 787.8 974.5C793.23 972.19 798.67 971.24 804.1 969.6C809.5 967.97 814.9 965.99 820.3 964.7C825.73 963.41 831.17 962.72 836.6 961.5C839.83 960.77 843.07 959 846.3 959C850.1 959 853.9 959 857.7 959" fill="none" stroke="#8C1414" stroke-width="1.4" stroke-linejoin="round" stroke-linecap="round"/><path d="M266.6 1211.6L270.9 1204.1L273.8 1218.3L401 1218.3C403.67 1218.24 406.33 1217.39 409 1216.51C410.33 1216.08 411.67 1215.49 413 1214.41C413.73 1213.83 414.47 1212.74 415.2 1211.26C416.4 1208.85 417.6 1202.54 418.8 1197.4C420.63 1189.54 422.47 1179.41 424.3 1170.3C426.4 1159.86 428.5 1148.55 430.6 1138.7C433 1127.45 435.4 1117.21 437.8 1107.1C439.03 1101.9 440.27 1097.26 441.5 1092C444.5 1079.21 447.5 1064.62 450.5 1051.2C452.9 1040.47 455.3 1028.34 457.7 1019.4C460.1 1010.46 462.5 1001.28 464.9 996.2C466.83 992.11 468.77 988.15 470.7 986.9C472.13 985.98 473.57 985.1 475 985.1C476.93 985.1 478.87 987.38 480.8 989C483.7 991.43 486.6 995.97 489.5 999.1C493.83 1003.78 498.17 1007.98 502.5 1012.1C507.33 1016.69 512.17 1021.31 517 1025.2C522.3 1029.47 527.6 1033.1 532.9 1036.7C535.27 1038.31 537.63 1039.88 540 1041.3C545.43 1044.56 550.87 1047.35 556.3 1050.2C561.7 1053.04 567.1 1055.99 572.5 1058.4C577.93 1060.82 583.37 1063.37 588.8 1064.9C593.67 1066.27 598.53 1068.1 603.4 1068.1C606.67 1068.1 609.93 1067.84 613.2 1067.6C618.6 1067.2 624 1065.89 629.4 1064.9C634.83 1063.91 640.27 1062.81 645.7 1061.6C651.13 1060.39 656.57 1059.1 662 1057.6C664.7 1056.85 667.4 1056.1 670.1 1055.1C675.5 1053.09 680.9 1049.55 686.3 1047C691.73 1044.43 697.17 1041.7 702.6 1039.7C707.17 1038.02 711.73 1037.21 716.3 1035.4C721.7 1033.26 727.1 1029.16 732.5 1026.5C737.93 1023.82 743.37 1022.09 748.8 1019.2C754.2 1016.33 759.6 1011.81 765 1008.6C770.43 1005.37 775.87 1002.2 781.3 999.7C786.73 997.2 792.17 995.23 797.6 993.2C803 991.18 808.4 988.97 813.8 987.5C819.23 986.03 824.67 984.97 830.1 983.9C835.5 982.83 840.9 981.53 846.3 981C850.1 980.63 853.9 980.3 857.7 980.2" fill="none" stroke="#FF8400" stroke-width="1.4" stroke-linejoin="round" stroke-linecap="round"/><path d="M267.1 1211.2L270.9 1205.3L273.8 1218.05" fill="none" stroke="#FF8400" stroke-width="1.7" stroke-linejoin="round"/><path d="M273.8 1218.05L401 1218.05" fill="none" stroke="#FF8400" stroke-width="2.3" stroke-linejoin="round" stroke-linecap="round"/><path d="M267.92 1148L270.13 1140L273.84 1129.9L277.46 1125.8L282.98 1123.6L290.2 1122.7L300.14 1124L309.98 1125.7L314.09 1123L319.91 1113.1L325.84 1097.9L331.66 1080.4L337.48 1062.9L343.4 1045.3L349.22 1030.2L355.14 1015L360.96 1001L366.89 985.8L372.71 972.9L378.53 958.9L384.45 946L390.27 932L396.19 918.6L405.13 894.4L415.16 869.8L425.3 845.2L435.34 820.6L445.47 798.3L454.41 778.1L463.44 754.7L471.27 735.7L478.6 721.3L484.72 727.8L488.13 728.9L493.05 727.6L501.58 725.7L516.33 724.3L552.67 724.5L583.38 724.8L590.1 724.4L594.62 725L600.24 741.2L608.07 762.4L615.9 780.3L624.93 801.6L632.76 819.4L640.59 838.4L649.62 859.7L657.45 876.5L665.28 895.5L673.11 913.4L681.04 931L693.78 960.8L745.17 1081L749.99 1091L765.95 1125L769.16 1128.6L777.59 1126.4L810.91 1127.9L857.38 1128.6" fill="none" stroke="#FF0000" stroke-width="1.25" stroke-linejoin="round"/></g><g transform="scale(1.25 1)"><rect x="100.08" y="681.2" width="205.04" height="250" fill="#fff" stroke="#000" stroke-width="1.3"/><path d="M114.48 705.9H146.56" stroke="#000" stroke-width="3.9" stroke-linecap="round" fill="none"/><path d="M113.52 743.4H147.52" stroke="#FF7A00" stroke-width="1.3" fill="none"/><path d="M113.52 764.05H147.52" stroke="#C8C800" stroke-width="1.3" fill="none"/><path d="M113.52 784.7H147.52" stroke="#148214" stroke-width="1.3" fill="none"/><path d="M113.52 805.35H147.52" stroke="#0F8282" stroke-width="1.3" fill="none"/><path d="M113.52 826H147.52" stroke="#244C9C" stroke-width="1.3" fill="none"/><path d="M113.52 846.65H147.52" stroke="#990F99" stroke-width="1.3" fill="none"/><path d="M113.52 867.3H147.52" stroke="#8C1414" stroke-width="1.3" fill="none"/><path d="M113.52 887.95H147.52" stroke="#FF8400" stroke-width="1.3" fill="none"/><path d="M113.52 908.6H147.52" stroke="#FF0000" stroke-width="1.3" fill="none"/></g>
<g transform="scale(1.25 1)"><path d="M99.4 1358.2H820.4V1896H99.4Z" fill="none" stroke="#121212" stroke-width="1.4"/><path d="M91.64 1896H99.4M820.4 1896H828.4M91.64 1806.37H99.4M820.4 1806.37H828.4M91.64 1716.73H99.4M820.4 1716.73H828.4M91.64 1627.1H99.4M820.4 1627.1H828.4M91.64 1537.47H99.4M820.4 1537.47H828.4M91.64 1447.83H99.4M820.4 1447.83H828.4M91.64 1358.2H99.4M820.4 1358.2H828.4M209.28 1896V1904.3M331.54 1896V1904.3M453.79 1896V1904.3M576.05 1896V1904.3M698.3 1896V1904.3M820.56 1896V1904.3" fill="none" stroke="#121212" stroke-width="1.4"/></g><g><path d="M266.6 1889.3L270.9 1882.4L273.9 1896L378 1896C380.67 1896 383.33 1895.09 386 1894.17C387.67 1893.6 389.33 1892.59 391 1891.12C392.17 1890.09 393.33 1888.31 394.5 1886.04C395.83 1883.44 397.17 1879.91 398.5 1873.9C399.73 1868.34 400.97 1854.52 402.2 1842.3C403.23 1832.06 404.27 1818.08 405.3 1806.1C406.2 1795.66 407.1 1785.09 408 1775C410 1752.58 412 1732.11 414 1710C416.07 1687.15 418.13 1662.02 420.2 1640C421.9 1621.89 423.6 1604.12 425.3 1588.4C427 1572.68 428.7 1554.77 430.4 1545C432.3 1534.08 434.2 1525.74 436.1 1520.5C438.53 1513.79 440.97 1508.5 443.4 1506C445.8 1503.53 448.2 1501 450.6 1501C453 1501 455.4 1502.99 457.8 1504.6C461.67 1507.2 465.53 1513.25 469.4 1517.6C473.23 1521.91 477.07 1526.55 480.9 1530.6C484.77 1534.68 488.63 1538.05 492.5 1542.1C495.13 1544.86 497.77 1546.87 500.4 1550.8C502.57 1554.03 504.73 1561.66 506.9 1565.3C509.8 1570.17 512.7 1572.9 515.6 1576.8C519.47 1582 523.33 1588.06 527.2 1592.7C531.47 1597.82 535.73 1602.14 540 1606.3C545.43 1611.6 550.87 1616.16 556.3 1620.9C561.7 1625.62 567.1 1630.4 572.5 1634.7C577.93 1639.03 583.37 1642.97 588.8 1646.9C591.5 1648.85 594.2 1651.78 596.9 1652.6C600.7 1653.75 604.5 1654.7 608.3 1654.7C611.53 1654.7 614.77 1653.61 618 1652.6C622.37 1651.23 626.73 1647.31 631.1 1644.5C635.97 1641.37 640.83 1638.14 645.7 1634.7C651.13 1630.86 656.57 1626.83 662 1622.5C667.4 1618.2 672.8 1613.39 678.2 1608.7C685.23 1602.6 692.27 1596.98 699.3 1590C704.97 1584.37 710.63 1577.57 716.3 1571C721.7 1564.74 727.1 1557.98 732.5 1551.5C737.93 1544.98 743.37 1538.84 748.8 1532C754.2 1525.2 759.6 1517.64 765 1510.5C770.43 1503.31 775.87 1494.84 781.3 1489C786.73 1483.16 792.17 1478.87 797.6 1474.2C803 1469.56 808.4 1465.27 813.8 1461C815.87 1459.37 817.93 1457.9 820 1456.2C822.87 1453.84 825.73 1450.78 828.6 1448.6C830.37 1447.26 832.13 1446.83 833.9 1445C834.67 1444.21 835.43 1442.61 836.2 1441C836.87 1439.6 837.53 1435.8 838.2 1435.8C839.63 1435.8 841.07 1437.1 842.5 1437.1C843.6 1437.1 844.7 1436.25 845.8 1435.1C846.33 1434.54 846.87 1431.2 847.4 1431.1C848.6 1430.88 849.8 1430.99 851 1430.8C852.1 1430.63 853.2 1427.8 854.3 1427.8C855.63 1427.8 856.97 1427.8 858.3 1428.6" fill="none" stroke="#000000" stroke-width="4" stroke-linejoin="round" stroke-linecap="round"/><path d="M266.6 1889.3L270.9 1882.4L273.9 1896L379 1896C381.67 1895.85 384.33 1895.04 387 1894.17C388.67 1893.63 390.33 1892.78 392 1891.63C393.17 1890.82 394.33 1889.85 395.5 1888.07C396.93 1885.88 398.37 1880.86 399.8 1873.9C401 1868.07 402.2 1853.55 403.4 1842.3C404.6 1831.05 405.8 1817.42 407 1806.1C408.17 1795.1 409.33 1785.08 410.5 1775C413.5 1749.08 416.5 1724.08 419.5 1700C422.17 1678.6 424.83 1657.89 427.5 1638C430.13 1618.36 432.77 1597.26 435.4 1581.2C437.57 1567.99 439.73 1553.32 441.9 1546.5C444.07 1539.68 446.23 1533.85 448.4 1532C450.33 1530.35 452.27 1528.9 454.2 1528.9C456.37 1528.9 458.53 1530.58 460.7 1532C464.07 1534.2 467.43 1539.59 470.8 1543.6C474.67 1548.21 478.53 1552.71 482.4 1558C485.3 1561.96 488.2 1567.33 491.1 1571.1C494.47 1575.48 497.83 1578.52 501.2 1582.6C506 1588.42 510.8 1596.3 515.6 1601.4C520.43 1606.54 525.27 1610.06 530.1 1614.4C533.4 1617.36 536.7 1620.78 540 1623.3C545.43 1627.45 550.87 1630.49 556.3 1633.9C561.7 1637.28 567.1 1640.81 572.5 1643.7C577.93 1646.6 583.37 1649.65 588.8 1651.5C593.13 1652.98 597.47 1655 601.8 1655C604.5 1655 607.2 1654.87 609.9 1654.7C613.7 1654.46 617.5 1652.87 621.3 1651.5C626.73 1649.54 632.17 1645.87 637.6 1642.8C643 1639.75 648.4 1636.58 653.8 1633.1C659.23 1629.59 664.67 1625.56 670.1 1621.7C675.5 1617.86 680.9 1614.02 686.3 1610C690.87 1606.6 695.43 1603.31 700 1599.5C705.43 1594.97 710.87 1589.55 716.3 1584.5C721.7 1579.48 727.1 1574.96 732.5 1569.3C734.13 1567.59 735.77 1565.4 737.4 1563.7C741.2 1559.75 745 1557.06 748.8 1553.1C754.2 1547.48 759.6 1540.08 765 1533.6C770.43 1527.08 775.87 1519.69 781.3 1514.1C786.73 1508.51 792.17 1503.31 797.6 1499.4C803 1495.51 808.4 1492.65 813.8 1489.7C819.23 1486.73 824.67 1484.22 830.1 1481.5C835.5 1478.79 840.9 1475.91 846.3 1473.4C849.03 1472.13 851.77 1469.94 854.5 1469.8C855.57 1469.74 856.63 1469.7 857.7 1469.7" fill="none" stroke="#FF7A00" stroke-width="1.4" stroke-linejoin="round" stroke-linecap="round"/><path d="M266.6 1889.3L270.9 1880.9L273.9 1895.4L388.7 1895.4C391.37 1895.1 394.03 1894.42 396.7 1893.66C398.37 1893.19 400.03 1892.66 401.7 1891.73C403.03 1890.98 404.37 1889.78 405.7 1887.86C407.27 1885.61 408.83 1881.01 410.4 1873.9C411.6 1868.45 412.8 1853.55 414 1842.3C415.2 1831.05 416.4 1817.25 417.6 1806.1C418.8 1794.95 420 1786.05 421.2 1775C423.37 1755.05 425.53 1729.89 427.7 1710C430.47 1684.6 433.23 1662.77 436 1640C437.23 1629.85 438.47 1617.37 439.7 1610.1C441.63 1598.71 443.57 1590.18 445.5 1584.1C447.5 1577.81 449.5 1572.53 451.5 1569.6C453.5 1566.67 455.5 1563.77 457.5 1563.3C459.53 1562.82 461.57 1562.5 463.6 1562.5C466 1562.5 468.4 1565.31 470.8 1567.2C474.17 1569.85 477.53 1574.27 480.9 1577.5C484.77 1581.21 488.63 1584.8 492.5 1588C494.43 1589.6 496.37 1590.81 498.3 1592.5C501.67 1595.44 505.03 1599.34 508.4 1602.9C513.23 1608.01 518.07 1614.24 522.9 1618.7C528.6 1623.96 534.3 1627.5 540 1632.3C545.43 1636.88 550.87 1642.62 556.3 1646.9C561.7 1651.16 567.1 1655.15 572.5 1658.3C577.93 1661.47 583.37 1664.75 588.8 1666.4C593.13 1667.72 597.47 1669.3 601.8 1669.3C605.6 1669.3 609.4 1668.63 613.2 1668C618.6 1667.1 624 1664.61 629.4 1662.4C634.83 1660.17 640.27 1657.12 645.7 1654.2C651.13 1651.28 656.57 1648.12 662 1644.8C667.2 1641.63 672.4 1638.09 677.6 1634.7C681.2 1632.35 684.8 1629.9 688.4 1627.6C692.27 1625.13 696.13 1623.09 700 1620.4C705.43 1616.62 710.87 1612.03 716.3 1607.3C718.73 1605.18 721.17 1602.82 723.6 1600.5C729.3 1595.05 735 1588.97 740.7 1583.6C746.1 1578.51 751.5 1574.29 756.9 1569C762.33 1563.68 767.77 1556.49 773.2 1551.5C778.6 1546.54 784 1542.54 789.4 1538.5C794.83 1534.44 800.27 1530.76 805.7 1527.1C811.13 1523.44 816.57 1519.74 822 1516.5C827.4 1513.28 832.8 1510.34 838.2 1507.6C843.63 1504.84 849.07 1500.17 854.5 1499.9C855.57 1499.85 856.63 1499.8 857.7 1499.8" fill="none" stroke="#C8C800" stroke-width="1.4" stroke-linejoin="round" stroke-linecap="round"/><path d="M266.6 1889.3L270.9 1881.6L273.9 1894.8L380 1894.8C382.67 1894.66 385.33 1893.93 388 1893.15C389.67 1892.66 391.33 1891.9 393 1890.86C394.17 1890.13 395.33 1889.32 396.5 1887.65C397.83 1885.74 399.17 1880.29 400.5 1873.9C401.83 1867.51 403.17 1854.28 404.5 1842.3C405.67 1831.82 406.83 1816.49 408 1806.1C409.33 1794.23 410.67 1786.84 412 1775C414.33 1754.27 416.67 1725.58 419 1700C420.93 1678.81 422.87 1653.78 424.8 1635C426.9 1614.61 429 1595.37 431.1 1581.2C433.27 1566.58 435.43 1551.9 437.6 1545C440 1537.35 442.4 1531.64 444.8 1529.1C447.2 1526.56 449.6 1524.1 452 1524.1C454.43 1524.1 456.87 1525.62 459.3 1527C462.67 1528.9 466.03 1533.91 469.4 1537.8C473.23 1542.23 477.07 1548.01 480.9 1552.3C485.23 1557.14 489.57 1559.97 493.9 1565.3C497.3 1569.48 500.7 1576.73 504.1 1581.2C507.93 1586.24 511.77 1590.35 515.6 1594.2C520.43 1599.05 525.27 1603.34 530.1 1607.2C533.4 1609.83 536.7 1612.12 540 1614.4C545.43 1618.15 550.87 1621.47 556.3 1625C561.7 1628.51 567.1 1632.64 572.5 1635.5C577.93 1638.38 583.37 1641.36 588.8 1642.8C593.13 1643.95 597.47 1645.3 601.8 1645.3C605.6 1645.3 609.4 1643.9 613.2 1642.8C618.6 1641.24 624 1638.05 629.4 1635.5C634.83 1632.93 640.27 1630.36 645.7 1627.4C651.13 1624.44 656.57 1620.99 662 1617.6C667.4 1614.23 672.8 1610.82 678.2 1607.1C685.47 1602.1 692.73 1597.3 700 1591C705.43 1586.29 710.87 1579.42 716.3 1574.2C721.7 1569.01 727.1 1564.95 732.5 1559.6C737.93 1554.22 743.37 1548.18 748.8 1541.7C754.2 1535.26 759.6 1526.71 765 1520.6C770.43 1514.45 775.87 1509.73 781.3 1504.3C787.27 1498.33 793.23 1490.62 799.2 1486.4C804.07 1482.96 808.93 1481.21 813.8 1478.3C819.23 1475.05 824.67 1471.09 830.1 1467.7C835.5 1464.33 840.9 1461.04 846.3 1458C849.03 1456.46 851.77 1453.87 854.5 1453.6C855.57 1453.49 856.63 1453.4 857.7 1453.4" fill="none" stroke="#148214" stroke-width="1.4" stroke-linejoin="round" stroke-linecap="round"/><path d="M266.6 1889.3L270.9 1881.4L273.9 1896L389 1896C391.67 1895.68 394.33 1894.97 397 1894.17C398.67 1893.67 400.33 1893.12 402 1892.14C403.33 1891.35 404.67 1890.07 406 1888.07C407.57 1885.72 409.13 1881.09 410.7 1873.9C411.9 1868.4 413.1 1853.55 414.3 1842.3C415.5 1831.05 416.7 1817.25 417.9 1806.1C419.1 1794.95 420.3 1786.05 421.5 1775C423.67 1755.05 425.83 1730.14 428 1710C430.7 1684.9 433.4 1660.3 436.1 1640C437.57 1628.97 439.03 1618.17 440.5 1610.1C442.4 1599.64 444.3 1590.24 446.2 1584.1C448.13 1577.85 450.07 1572.59 452 1569.6C453.93 1566.61 455.87 1563.68 457.8 1563.1C459.73 1562.52 461.67 1562.1 463.6 1562.1C466 1562.1 468.4 1564.85 470.8 1566.7C474.17 1569.29 477.53 1573.64 480.9 1576.8C484.77 1580.42 488.63 1583.92 492.5 1587C494.43 1588.54 496.37 1589.42 498.3 1591.3C501.17 1594.09 504.03 1600.85 506.9 1604.3C509.8 1607.79 512.7 1610.25 515.6 1613C520.43 1617.59 525.27 1622.18 530.1 1626C533.4 1628.61 536.7 1631.03 540 1633.1C545.43 1636.51 550.87 1639.01 556.3 1642C561.7 1644.97 567.1 1648.32 572.5 1651C577.93 1653.69 583.37 1656.82 588.8 1658.3C593.67 1659.63 598.53 1661.2 603.4 1661.2C606.67 1661.2 609.93 1660.51 613.2 1659.9C618.6 1658.9 624 1656.33 629.4 1654.2C634.83 1652.06 640.27 1649.6 645.7 1646.9C651.13 1644.2 656.57 1640.93 662 1637.8C667.2 1634.8 672.4 1631.78 677.6 1628.5C681.2 1626.23 684.8 1623.56 688.4 1621.3C692.27 1618.87 696.13 1616.91 700 1614.4C705.43 1610.87 710.87 1607.07 716.3 1602.6C721.7 1598.16 727.1 1592.45 732.5 1587.2C735.77 1584.03 739.03 1580.76 742.3 1577.5C747.17 1572.64 752.03 1567.9 756.9 1562.8C762.33 1557.11 767.77 1550.78 773.2 1545C777.53 1540.39 781.87 1535.28 786.2 1531.5C791.07 1527.26 795.93 1524.25 800.8 1520.6C805.13 1517.35 809.47 1513.7 813.8 1510.8C819.23 1507.17 824.67 1504.22 830.1 1501.1C835.5 1498 840.9 1494.72 846.3 1492.1C849.03 1490.78 851.77 1488.64 854.5 1488.5C855.57 1488.44 856.63 1488.4 857.7 1488.4" fill="none" stroke="#0F8282" stroke-width="1.4" stroke-linejoin="round" stroke-linecap="round"/><path d="M266.6 1889.3L270.9 1882.4L273.9 1896L376 1896C378.67 1895.68 381.33 1894.97 384 1894.17C385.67 1893.67 387.33 1893.07 389 1892.14C390.2 1891.46 391.4 1890.68 392.6 1889.09C394.1 1887.1 395.6 1881.34 397.1 1873.9C398.3 1867.95 399.5 1855.16 400.7 1842.3C401.6 1832.66 402.5 1818.15 403.4 1806.1C404.3 1794.05 405.2 1781.4 406.1 1770C408.07 1745.09 410.03 1722.22 412 1700C414.17 1675.52 416.33 1644.96 418.5 1630C420.77 1614.35 423.03 1606.36 425.3 1595.6C427.23 1586.42 429.17 1574.1 431.1 1569.6C433.27 1564.55 435.43 1560.7 437.6 1559.5C439.77 1558.3 441.93 1557.3 444.1 1557.3C446.27 1557.3 448.43 1559.32 450.6 1560.9C453.97 1563.35 457.33 1568.89 460.7 1572.5C464.57 1576.64 468.43 1580.23 472.3 1584.1C475.67 1587.47 479.03 1591.21 482.4 1594.2C484.8 1596.33 487.2 1597.69 489.6 1600C493.47 1603.72 497.33 1610.59 501.2 1614.4C506 1619.13 510.8 1621.93 515.6 1626C520.43 1630.1 525.27 1635.1 530.1 1639C533.93 1642.09 537.77 1644.49 541.6 1647.5C546.5 1651.35 551.4 1656.13 556.3 1659.9C561.7 1664.05 567.1 1667.98 572.5 1671.3C577.93 1674.64 583.37 1677.95 588.8 1680.2C593.13 1682 597.47 1684.6 601.8 1684.6C604.5 1684.6 607.2 1684.05 609.9 1683.5C614.4 1682.58 618.9 1679.14 623.4 1676.5C627 1674.39 630.6 1671.73 634.2 1669.3C637.8 1666.87 641.4 1664.39 645 1661.9C648.63 1659.39 652.27 1656.85 655.9 1654.3C659.5 1651.78 663.1 1649.24 666.7 1646.7C670.33 1644.14 673.97 1641.46 677.6 1639C681.2 1636.57 684.8 1634.22 688.4 1632C692.27 1629.62 696.13 1627.81 700 1625.2C705.43 1621.54 710.87 1616.56 716.3 1612C721.7 1607.47 727.1 1603.18 732.5 1597.9C735.77 1594.71 739.03 1590.96 742.3 1587.2C747.17 1581.6 752.03 1575.19 756.9 1569.3C762.33 1562.72 767.77 1556.44 773.2 1549.8C777.53 1544.51 781.87 1538.12 786.2 1533.6C791.07 1528.53 795.93 1525.18 800.8 1520.6C806.23 1515.49 811.67 1509.14 817.1 1504.3C822.5 1499.49 827.9 1495.28 833.3 1491.3C837.63 1488.11 841.97 1485.15 846.3 1482.4C849.03 1480.66 851.77 1477.9 854.5 1477.5C855.57 1477.34 856.63 1477.2 857.7 1477.2" fill="none" stroke="#244C9C" stroke-width="1.4" stroke-linejoin="round" stroke-linecap="round"/><path d="M266.6 1889.3L270.9 1882.4L273.9 1896L382 1896C384.67 1895.68 387.33 1894.97 390 1894.17C391.67 1893.67 393.33 1893.19 395 1892.14C396.1 1891.44 397.2 1889.98 398.3 1888.07C399.8 1885.47 401.3 1880.98 402.8 1873.9C404 1868.24 405.2 1853.4 406.4 1842.3C407.63 1830.89 408.87 1815.27 410.1 1806.1C411.57 1795.19 413.03 1789.09 414.5 1780C416.4 1768.23 418.3 1755.01 420.2 1742.9C422.13 1730.58 424.07 1716.46 426 1706.7C427.93 1696.94 429.87 1688.09 431.8 1682.1C434.2 1674.66 436.6 1668.29 439 1664.8C441.4 1661.31 443.8 1658.3 446.2 1657.3C448.63 1656.29 451.07 1655.4 453.5 1655.4C456.37 1655.4 459.23 1657.02 462.1 1658.3C466.47 1660.25 470.83 1664.83 475.2 1667.7C480 1670.85 484.8 1674.23 489.6 1676.4C494.9 1678.79 500.2 1679.46 505.5 1682.1C509.83 1684.26 514.17 1689.28 518.5 1692.3C524.3 1696.34 530.1 1700.56 535.9 1703.1C537.27 1703.7 538.63 1704.04 540 1704.6C545.43 1706.83 550.87 1710.22 556.3 1712.8C561.7 1715.37 567.1 1717.67 572.5 1720.1C577.93 1722.54 583.37 1725.53 588.8 1727.4C593.67 1729.07 598.53 1731.5 603.4 1731.5C606.67 1731.5 609.93 1730.61 613.2 1729.8C618.6 1728.46 624 1724.32 629.4 1721.7C634.83 1719.06 640.27 1716.48 645.7 1714C651.13 1711.52 656.57 1709.21 662 1706.8C667.4 1704.41 672.8 1702.12 678.2 1699.6C683.63 1697.07 689.07 1694.09 694.5 1691.6C696.33 1690.76 698.17 1690.02 700 1689.2C704 1687.4 708 1685.56 712 1683.6C716.13 1681.57 720.27 1679.45 724.4 1677.2C729.83 1674.25 735.27 1671.13 740.7 1667.8C746.1 1664.49 751.5 1660.97 756.9 1657.2C762.33 1653.41 767.77 1649.08 773.2 1645C778.6 1640.95 784 1636.39 789.4 1632.8C794.83 1629.19 800.27 1626.21 805.7 1623.1C811.13 1619.99 816.57 1616.95 822 1614.1C827.4 1611.27 832.8 1608.5 838.2 1606C843.63 1603.49 849.07 1599 854.5 1599C855.57 1599 856.63 1599 857.7 1599" fill="none" stroke="#990F99" stroke-width="1.4" stroke-linejoin="round" stroke-linecap="round"/><path d="M266.6 1889.3L270.9 1882.4L273.9 1896L377 1896C379.67 1895.68 382.33 1894.97 385 1894.17C386.67 1893.67 388.33 1893.08 390 1892.14C391.17 1891.48 392.33 1890.66 393.5 1889.09C395 1887.06 396.5 1881.19 398 1873.9C399.27 1867.75 400.53 1854.86 401.8 1842.3C402.8 1832.38 403.8 1818.8 404.8 1806.1C405.7 1794.67 406.6 1780.9 407.5 1770C409.67 1743.76 411.83 1721.95 414 1700C416.27 1677.03 418.53 1653.24 420.8 1635C423.03 1617.02 425.27 1601.06 427.5 1588.4C429.4 1577.63 431.3 1565.52 433.2 1560.9C435.13 1556.2 437.07 1552.75 439 1551.5C440.7 1550.4 442.4 1549.4 444.1 1549.4C446.27 1549.4 448.43 1551 450.6 1552.3C453.97 1554.32 457.33 1558.85 460.7 1562.4C464.57 1566.48 468.43 1571.01 472.3 1575.4C475.67 1579.22 479.03 1583.41 482.4 1587C484.8 1589.56 487.2 1591.67 489.6 1594.2C493.47 1598.27 497.33 1603.32 501.2 1607.2C506 1612.02 510.8 1616.13 515.6 1620.2C520.43 1624.3 525.27 1628.19 530.1 1631.8C533.4 1634.27 536.7 1636.57 540 1638.8C545.43 1642.48 550.87 1646.06 556.3 1649.3C561.7 1652.52 567.1 1655.98 572.5 1658.3C577.93 1660.63 583.37 1662.79 588.8 1664C593.67 1665.08 598.53 1666.4 603.4 1666.4C606.67 1666.4 609.93 1665.53 613.2 1664.8C618.6 1663.59 624 1660.7 629.4 1658.3C634.83 1655.89 640.27 1653.14 645.7 1650.2C651.13 1647.26 656.57 1643.87 662 1640.5C667.2 1637.27 672.4 1633.79 677.6 1630.4C681.2 1628.05 684.8 1625.65 688.4 1623.3C692.27 1620.78 696.13 1618.74 700 1615.8C705.43 1611.66 710.87 1605.61 716.3 1600.3C721.7 1595.02 727.1 1590.3 732.5 1584C736.3 1579.57 740.1 1571.7 743.9 1568.5C745.53 1567.12 747.17 1566.66 748.8 1565.3C754.2 1560.82 759.6 1550.17 765 1543.3C770.43 1536.39 775.87 1529.69 781.3 1523.8C785.1 1519.68 788.9 1515.33 792.7 1512.4C797.03 1509.06 801.37 1507.15 805.7 1504.3C811.13 1500.73 816.57 1496.71 822 1492.9C827.4 1489.11 832.8 1485.13 838.2 1481.5C843.63 1477.85 849.07 1472.2 854.5 1471C855.57 1470.76 856.63 1470.58 857.7 1470.5" fill="none" stroke="#8C1414" stroke-width="1.4" stroke-linejoin="round" stroke-linecap="round"/><path d="M266.6 1889.3L270.9 1882.4L273.9 1896L379 1896C381.67 1895.85 384.33 1895.04 387 1894.17C388.67 1893.63 390.33 1892.81 392 1891.63C393.1 1890.85 394.2 1889.79 395.3 1888.07C396.8 1885.72 398.3 1880.98 399.8 1873.9C401 1868.24 402.2 1853.55 403.4 1842.3C404.6 1831.05 405.8 1817.07 407 1806.1C408.03 1796.65 409.07 1788.58 410.1 1780C412.5 1760.06 414.9 1739.91 417.3 1721.2C419.23 1706.12 421.17 1690.94 423.1 1677.8C425.03 1664.66 426.97 1651.02 428.9 1641.7C430.33 1634.79 431.77 1627.81 433.2 1624.5C435.37 1619.5 437.53 1615.94 439.7 1614.4C442.37 1612.5 445.03 1610.8 447.7 1610.8C450.1 1610.8 452.5 1612.01 454.9 1613C457.8 1614.19 460.7 1616.4 463.6 1618.7C466.5 1621 469.4 1624.76 472.3 1627.4C475.17 1630.01 478.03 1632.35 480.9 1634.6C484.77 1637.63 488.63 1640.22 492.5 1643.1C497.3 1646.67 502.1 1650.83 506.9 1654C512.7 1657.83 518.5 1660.84 524.3 1664.1C530.07 1667.34 535.83 1670.65 541.6 1673.5C546.5 1675.92 551.4 1677.96 556.3 1680.2C561.7 1682.66 567.1 1685.67 572.5 1687.6C577.93 1689.55 583.37 1691.39 588.8 1692.4C593.67 1693.3 598.53 1694.4 603.4 1694.4C606.67 1694.4 609.93 1693.52 613.2 1692.8C618.6 1691.61 624 1688.91 629.4 1686.7C634.83 1684.48 640.27 1681.96 645.7 1679.4C651.13 1676.84 656.57 1673.9 662 1671.3C667.4 1668.71 672.8 1666.46 678.2 1663.8C681.6 1662.13 685 1660.3 688.4 1658.5C692.27 1656.45 696.13 1654.49 700 1652.2C705.43 1648.99 710.87 1645.59 716.3 1641.5C721.7 1637.43 727.1 1631.74 732.5 1627.2C737.93 1622.63 743.37 1618.83 748.8 1614.1C754.2 1609.4 759.6 1604.95 765 1598.7C767.17 1596.19 769.33 1592.22 771.5 1589.7C777.47 1582.76 783.43 1577.78 789.4 1572.6C794.83 1567.88 800.27 1563.8 805.7 1559.6C811.13 1555.4 816.57 1551.19 822 1547.4C827.4 1543.63 832.8 1540.24 838.2 1536.8C843.63 1533.34 849.07 1526.97 854.5 1526.7C855.57 1526.65 856.63 1526.6 857.7 1526.6" fill="none" stroke="#FF8400" stroke-width="1.4" stroke-linejoin="round" stroke-linecap="round"/><path d="M267.1 1888.9L270.9 1883.6L273.9 1895.75" fill="none" stroke="#FF8400" stroke-width="1.7" stroke-linejoin="round"/><path d="M273.9 1895.75L379 1895.75" fill="none" stroke="#FF8400" stroke-width="2.3" stroke-linejoin="round" stroke-linecap="round"/><path d="M267.92 1825.8L270.13 1817.8L273.84 1807.7L277.46 1803.6L282.98 1801.4L290.2 1800.5L300.14 1801.8L309.98 1803.5L314.09 1800.8L319.91 1790.9L325.84 1775.7L331.66 1758.2L337.48 1740.7L343.4 1723.1L349.22 1708L355.14 1692.8L360.96 1678.8L366.89 1663.6L372.71 1650.7L378.53 1636.7L384.45 1623.8L390.27 1609.8L396.19 1596.4L405.13 1572.2L415.16 1547.6L425.3 1523L435.34 1498.4L445.47 1476.1L454.41 1455.9L463.44 1432.5L471.27 1413.5L478.6 1399.1L484.72 1405.6L488.13 1406.7L493.05 1405.4L501.58 1403.5L516.33 1402.1L552.67 1402.3L583.38 1402.6L590.1 1402.2L594.62 1402.8L600.24 1419L608.07 1440.2L615.9 1458.1L624.93 1479.4L632.76 1497.2L640.59 1516.2L649.62 1537.5L657.45 1554.3L665.28 1573.3L673.11 1591.2L681.04 1608.8L693.78 1638.6L745.17 1758.8L749.99 1768.8L765.95 1802.8L769.16 1806.4L777.59 1804.2L810.91 1805.7L857.38 1806.4" fill="none" stroke="#FF0000" stroke-width="1.25" stroke-linejoin="round"/></g><g transform="scale(1.25 1)"><rect x="100" y="1359.6" width="205.04" height="248.4" fill="#fff" stroke="#000" stroke-width="1.3"/><path d="M114.48 1384.2H146.56" stroke="#000" stroke-width="3.9" stroke-linecap="round" fill="none"/><path d="M113.52 1421H147.52" stroke="#FF7A00" stroke-width="1.3" fill="none"/><path d="M113.52 1441.54H147.52" stroke="#C8C800" stroke-width="1.3" fill="none"/><path d="M113.52 1462.08H147.52" stroke="#148214" stroke-width="1.3" fill="none"/><path d="M113.52 1482.62H147.52" stroke="#0F8282" stroke-width="1.3" fill="none"/><path d="M113.52 1503.16H147.52" stroke="#244C9C" stroke-width="1.3" fill="none"/><path d="M113.52 1523.7H147.52" stroke="#990F99" stroke-width="1.3" fill="none"/><path d="M113.52 1544.24H147.52" stroke="#8C1414" stroke-width="1.3" fill="none"/><path d="M113.52 1564.78H147.52" stroke="#FF8400" stroke-width="1.3" fill="none"/><path d="M113.52 1585.32H147.52" stroke="#FF0000" stroke-width="1.3" fill="none"/></g>
</g>
<g style="opacity:0.999">
<text transform="translate(100.9 563.35) scale(1.18 1)" font-size="21.2" text-anchor="end">0</text>
<text transform="translate(1042 563.35) scale(1.18 1)" font-size="21.2" text-anchor="start">40</text>
<text transform="translate(100.9 473.89) scale(1.18 1)" font-size="21.2" text-anchor="end">1000</text>
<text transform="translate(1042 473.89) scale(1.18 1)" font-size="21.2" text-anchor="start">50</text>
<text transform="translate(100.9 384.43) scale(1.18 1)" font-size="21.2" text-anchor="end">2000</text>
<text transform="translate(1042 384.43) scale(1.18 1)" font-size="21.2" text-anchor="start">60</text>
<text transform="translate(100.9 294.97) scale(1.18 1)" font-size="21.2" text-anchor="end">3000</text>
<text transform="translate(1042 294.97) scale(1.18 1)" font-size="21.2" text-anchor="start">70</text>
<text transform="translate(100.9 205.52) scale(1.18 1)" font-size="21.2" text-anchor="end">4000</text>
<text transform="translate(1042 205.52) scale(1.18 1)" font-size="21.2" text-anchor="start">80</text>
<text transform="translate(100.9 116.06) scale(1.18 1)" font-size="21.2" text-anchor="end">5000</text>
<text transform="translate(1042 116.06) scale(1.18 1)" font-size="21.2" text-anchor="start">90</text>
<text transform="translate(100.9 26.6) scale(1.18 1)" font-size="21.2" text-anchor="end">6000</text>
<text transform="translate(1042 26.6) scale(1.18 1)" font-size="21.2" text-anchor="start">100</text>
<text transform="translate(259.4 593.95) scale(1.18 1)" font-size="21.2" text-anchor="middle">0</text>
<text transform="translate(411.66 593.95) scale(1.18 1)" font-size="21.2" text-anchor="middle">200</text>
<text transform="translate(563.92 593.95) scale(1.18 1)" font-size="21.2" text-anchor="middle">400</text>
<text transform="translate(716.18 593.95) scale(1.18 1)" font-size="21.2" text-anchor="middle">600</text>
<text transform="translate(868.44 593.95) scale(1.18 1)" font-size="21.2" text-anchor="middle">800</text>
<text transform="translate(1020.7 593.95) scale(1.18 1)" font-size="21.2" text-anchor="middle">1000</text>
<text transform="translate(191.2 49.5) scale(1.27 1)" font-size="14" text-anchor="start">Corn starch (Control)</text>
<text transform="translate(191.2 70.15) scale(1.27 1)" font-size="14" text-anchor="start">Native cactus 2%</text>
<text transform="translate(191.2 90.8) scale(1.27 1)" font-size="14" text-anchor="start">Native cactus 5%</text>
<text transform="translate(191.2 111.45) scale(1.27 1)" font-size="14" text-anchor="start">Acetylated cactus 2%</text>
<text transform="translate(191.2 132.1) scale(1.27 1)" font-size="14" text-anchor="start">Acetylated cactus 5%</text>
<text transform="translate(191.2 152.75) scale(1.27 1)" font-size="14" text-anchor="start">Natice Acacia 2%</text>
<text transform="translate(191.2 173.4) scale(1.27 1)" font-size="14" text-anchor="start">Native Acacia 5%</text>
<text transform="translate(191.2 194.05) scale(1.27 1)" font-size="14" text-anchor="start">Acetylated Acaia 2%</text>
<text transform="translate(191.2 214.7) scale(1.27 1)" font-size="14" text-anchor="start">Acetylated Acaia 5%</text>
<text transform="translate(191.2 235.35) scale(1.27 1)" font-size="14" text-anchor="start">Temprature °C</text>
<text transform="translate(572.4 615.65) scale(1.22 1)" font-size="25.2" text-anchor="middle">Time (Seconds)</text>
<text transform="translate(584 47) scale(1.2 1)" font-size="29.8" text-anchor="middle">A</text>
<text transform="translate(34.6 287.07) rotate(-90) scale(1.46 1.33)" font-size="20" text-anchor="middle" letter-spacing="-1.1">Vicosity (cP)</text>
<text transform="translate(1089.8 286.38) rotate(-90) scale(1.42 1.25)" font-size="20" text-anchor="middle" letter-spacing="-0.95">Temperature (°C)</text>
<text transform="translate(102 1225.5) scale(1.18 1)" font-size="21.2" text-anchor="end">0</text>
<text transform="translate(1046.7 1225.5) scale(1.18 1)" font-size="21.2" text-anchor="start">40</text>
<text transform="translate(102 1135.85) scale(1.18 1)" font-size="21.2" text-anchor="end">1000</text>
<text transform="translate(1046.7 1135.85) scale(1.18 1)" font-size="21.2" text-anchor="start">50</text>
<text transform="translate(102 1046.2) scale(1.18 1)" font-size="21.2" text-anchor="end">2000</text>
<text transform="translate(1046.7 1046.2) scale(1.18 1)" font-size="21.2" text-anchor="start">60</text>
<text transform="translate(102 956.55) scale(1.18 1)" font-size="21.2" text-anchor="end">3000</text>
<text transform="translate(1046.7 956.55) scale(1.18 1)" font-size="21.2" text-anchor="start">70</text>
<text transform="translate(102 866.9) scale(1.18 1)" font-size="21.2" text-anchor="end">4000</text>
<text transform="translate(1046.7 866.9) scale(1.18 1)" font-size="21.2" text-anchor="start">80</text>
<text transform="translate(102 777.25) scale(1.18 1)" font-size="21.2" text-anchor="end">5000</text>
<text transform="translate(1046.7 777.25) scale(1.18 1)" font-size="21.2" text-anchor="start">90</text>
<text transform="translate(102 687.6) scale(1.18 1)" font-size="21.2" text-anchor="end">6000</text>
<text transform="translate(1046.7 687.6) scale(1.18 1)" font-size="21.2" text-anchor="start">100</text>
<text transform="translate(261.6 1255) scale(1.18 1)" font-size="21.2" text-anchor="middle">0</text>
<text transform="translate(414.42 1255) scale(1.18 1)" font-size="21.2" text-anchor="middle">200</text>
<text transform="translate(567.24 1255) scale(1.18 1)" font-size="21.2" text-anchor="middle">400</text>
<text transform="translate(720.06 1255) scale(1.18 1)" font-size="21.2" text-anchor="middle">600</text>
<text transform="translate(872.88 1255) scale(1.18 1)" font-size="21.2" text-anchor="middle">800</text>
<text transform="translate(1025.7 1255) scale(1.18 1)" font-size="21.2" text-anchor="middle">1000</text>
<text transform="translate(193.3 710.9) scale(1.27 1)" font-size="14" text-anchor="start">Sweet potato starch</text>
<text transform="translate(193.3 728.2) scale(1.27 1)" font-size="14" text-anchor="start">(Control)</text>
<text transform="translate(193.3 748.4) scale(1.27 1)" font-size="14" text-anchor="start">Native cactus 2%</text>
<text transform="translate(193.3 769.05) scale(1.27 1)" font-size="14" text-anchor="start">Native cactus 5%</text>
<text transform="translate(193.3 789.7) scale(1.27 1)" font-size="14" text-anchor="start">Acetylated cactus 2%</text>
<text transform="translate(193.3 810.35) scale(1.27 1)" font-size="14" text-anchor="start">Acetylated cactus 5%</text>
<text transform="translate(193.3 831) scale(1.27 1)" font-size="14" text-anchor="start">Natice Acacia 2%</text>
<text transform="translate(193.3 851.65) scale(1.27 1)" font-size="14" text-anchor="start">Native Acacia 5%</text>
<text transform="translate(193.3 872.3) scale(1.27 1)" font-size="14" text-anchor="start">Acetylated Acaia 2%</text>
<text transform="translate(193.3 892.95) scale(1.27 1)" font-size="14" text-anchor="start">Acetylated Acaia 5%</text>
<text transform="translate(193.3 913.6) scale(1.27 1)" font-size="14" text-anchor="start">Temprature °C</text>
<text transform="translate(575.2 1277.3) scale(1.22 1)" font-size="25.2" text-anchor="middle">Time (Seconds)</text>
<text transform="translate(590.5 707.1) scale(1.2 1)" font-size="29.8" text-anchor="middle">B</text>
<text transform="translate(41.1 948.65) rotate(-90) scale(1.46 1.33)" font-size="20" text-anchor="middle" letter-spacing="-1.1">Vicosity (cP)</text>
<text transform="translate(1097.8 947.95) rotate(-90) scale(1.42 1.25)" font-size="20" text-anchor="middle" letter-spacing="-0.95">Temperature (°C)</text>
<text transform="translate(102 1903.2) scale(1.18 1)" font-size="21.2" text-anchor="end">0</text>
<text transform="translate(1046.7 1903.2) scale(1.18 1)" font-size="21.2" text-anchor="start">40</text>
<text transform="translate(102 1813.57) scale(1.18 1)" font-size="21.2" text-anchor="end">1000</text>
<text transform="translate(1046.7 1813.57) scale(1.18 1)" font-size="21.2" text-anchor="start">50</text>
<text transform="translate(102 1723.93) scale(1.18 1)" font-size="21.2" text-anchor="end">2000</text>
<text transform="translate(1046.7 1723.93) scale(1.18 1)" font-size="21.2" text-anchor="start">60</text>
<text transform="translate(102 1634.3) scale(1.18 1)" font-size="21.2" text-anchor="end">3000</text>
<text transform="translate(1046.7 1634.3) scale(1.18 1)" font-size="21.2" text-anchor="start">70</text>
<text transform="translate(102 1544.67) scale(1.18 1)" font-size="21.2" text-anchor="end">4000</text>
<text transform="translate(1046.7 1544.67) scale(1.18 1)" font-size="21.2" text-anchor="start">80</text>
<text transform="translate(102 1455.03) scale(1.18 1)" font-size="21.2" text-anchor="end">5000</text>
<text transform="translate(1046.7 1455.03) scale(1.18 1)" font-size="21.2" text-anchor="start">90</text>
<text transform="translate(102 1365.4) scale(1.18 1)" font-size="21.2" text-anchor="end">6000</text>
<text transform="translate(1046.7 1365.4) scale(1.18 1)" font-size="21.2" text-anchor="start">100</text>
<text transform="translate(261.6 1933.8) scale(1.18 1)" font-size="21.2" text-anchor="middle">0</text>
<text transform="translate(414.42 1933.8) scale(1.18 1)" font-size="21.2" text-anchor="middle">200</text>
<text transform="translate(567.24 1933.8) scale(1.18 1)" font-size="21.2" text-anchor="middle">400</text>
<text transform="translate(720.06 1933.8) scale(1.18 1)" font-size="21.2" text-anchor="middle">600</text>
<text transform="translate(872.88 1933.8) scale(1.18 1)" font-size="21.2" text-anchor="middle">800</text>
<text transform="translate(1025.7 1933.8) scale(1.18 1)" font-size="21.2" text-anchor="middle">1000</text>
<text transform="translate(193.3 1389.2) scale(1.27 1)" font-size="14" text-anchor="start">Turkish bean starch</text>
<text transform="translate(193.3 1405.9) scale(1.27 1)" font-size="14" text-anchor="start"> (Control)</text>
<text transform="translate(193.3 1426) scale(1.27 1)" font-size="14" text-anchor="start">Native cactus 2%</text>
<text transform="translate(193.3 1446.54) scale(1.27 1)" font-size="14" text-anchor="start">Native cactus 5%</text>
<text transform="translate(193.3 1467.08) scale(1.27 1)" font-size="14" text-anchor="start">Acetylated cactus 2%</text>
<text transform="translate(193.3 1487.62) scale(1.27 1)" font-size="14" text-anchor="start">Acetylated cactus 5%</text>
<text transform="translate(193.3 1508.16) scale(1.27 1)" font-size="14" text-anchor="start">Natice Acacia 2%</text>
<text transform="translate(193.3 1528.7) scale(1.27 1)" font-size="14" text-anchor="start">Native Acacia 5%</text>
<text transform="translate(193.3 1549.24) scale(1.27 1)" font-size="14" text-anchor="start">Acetylated Acaia 2%</text>
<text transform="translate(193.3 1569.78) scale(1.27 1)" font-size="14" text-anchor="start">Acetylated Acaia 5%</text>
<text transform="translate(193.3 1590.32) scale(1.27 1)" font-size="14" text-anchor="start">Temprature °C</text>
<text transform="translate(575.2 1955.4) scale(1.22 1)" font-size="25.2" text-anchor="middle">Time (Seconds)</text>
<text transform="translate(593 1389.7) scale(1.2 1)" font-size="29.8" text-anchor="middle">C</text>
<text transform="translate(41.1 1626.4) rotate(-90) scale(1.46 1.33)" font-size="20" text-anchor="middle" letter-spacing="-1.1">Vicosity (cP)</text>
<text transform="translate(1097.8 1625.7) rotate(-90) scale(1.42 1.25)" font-size="20" text-anchor="middle" letter-spacing="-0.95">Temperature (°C)</text>
</g>
</svg>
</body></html>
